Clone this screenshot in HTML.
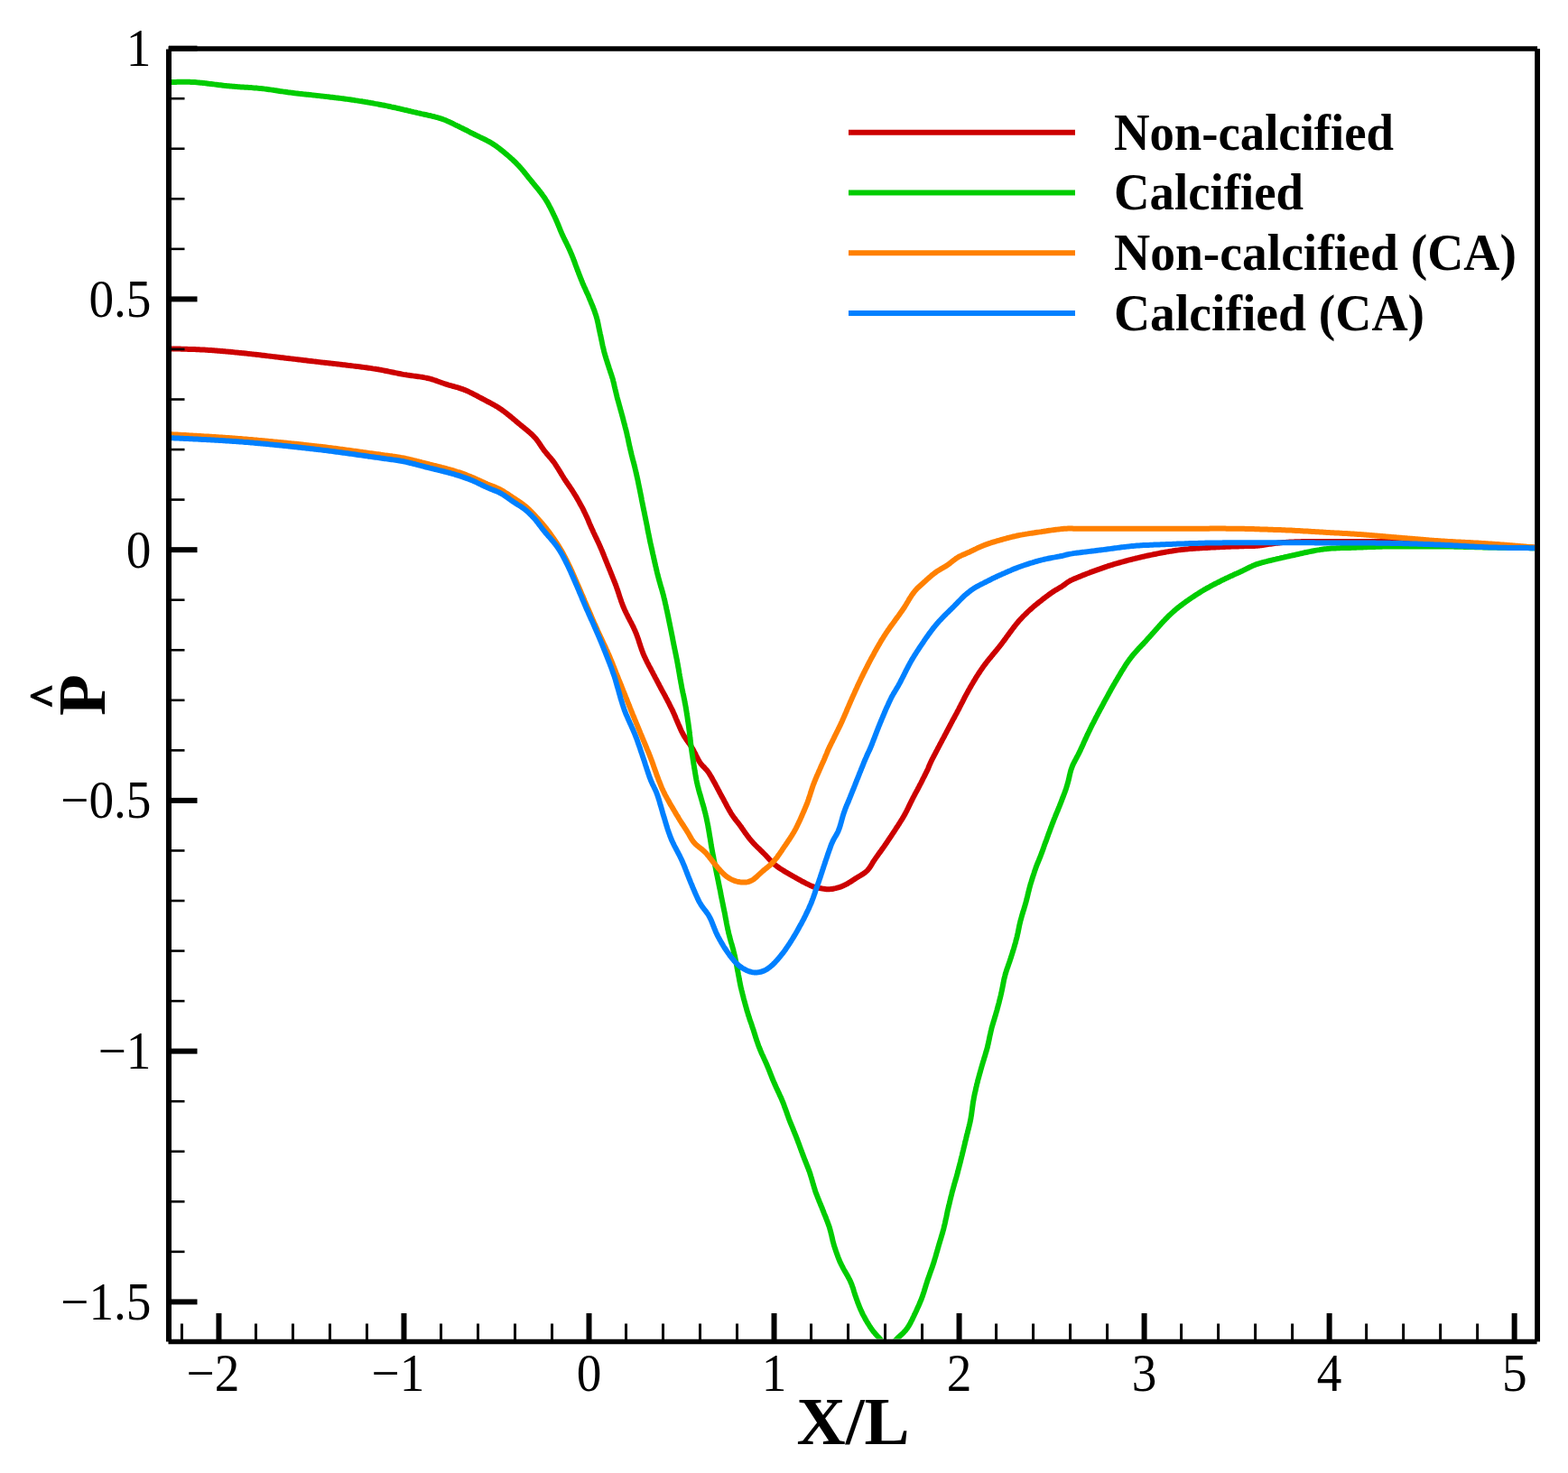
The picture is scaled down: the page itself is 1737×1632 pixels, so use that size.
<!DOCTYPE html><html><head><meta charset="utf-8"><title>Pressure plot</title><style>html,body{margin:0;padding:0;background:#fff;}svg{display:block;}</style></head><body>
<svg width="1737" height="1632" viewBox="0 0 1737 1632">
<rect width="1737" height="1632" fill="#fff"/>
<defs><clipPath id="pc"><rect x="190.0" y="57.0" width="1510.1" height="1426.6"/></clipPath></defs>
<g clip-path="url(#pc)" fill="none" stroke-width="6" stroke-linejoin="round" stroke-linecap="round">
<path stroke="#cc0000" d="M186.0,386.3L187.5,386.3 189.0,386.4 190.5,386.4 192.0,386.5 193.5,386.5 195.0,386.5 196.5,386.6 198.0,386.6 199.5,386.6 201.0,386.7 202.5,386.7 204.0,386.7 205.5,386.8 207.0,386.8 208.5,386.9 210.0,386.9 211.5,387.0 213.0,387.0 214.5,387.1 216.0,387.1 217.5,387.2 219.0,387.2 220.5,387.3 222.0,387.4 223.5,387.4 225.0,387.5 226.5,387.6 228.0,387.7 229.5,387.8 231.0,387.9 232.5,388.0 234.0,388.1 235.5,388.2 237.0,388.3 238.5,388.4 240.0,388.5 241.5,388.7 243.0,388.8 244.5,388.9 246.0,389.0 247.5,389.2 249.0,389.3 250.4,389.4 251.9,389.6 253.4,389.7 254.9,389.8 256.4,390.0 257.9,390.1 259.4,390.3 260.9,390.4 262.4,390.6 263.9,390.7 265.4,390.9 266.9,391.0 268.4,391.2 269.9,391.3 271.4,391.5 272.9,391.6 274.3,391.8 275.8,391.9 277.3,392.1 278.8,392.3 280.3,392.4 281.8,392.6 283.3,392.8 284.8,393.0 286.3,393.1 287.8,393.3 289.3,393.5 290.8,393.7 292.2,393.8 293.7,394.0 295.2,394.2 296.7,394.4 298.2,394.6 299.7,394.7 301.2,394.9 302.7,395.1 304.2,395.3 305.7,395.5 307.1,395.6 308.6,395.8 310.1,396.0 311.6,396.2 313.1,396.3 314.6,396.5 316.1,396.7 317.6,396.9 319.1,397.0 320.6,397.2 322.1,397.4 323.5,397.6 325.0,397.7 326.5,397.9 328.0,398.1 329.5,398.3 331.0,398.5 332.5,398.6 334.0,398.8 335.5,399.0 337.0,399.2 338.4,399.3 339.9,399.5 341.4,399.7 342.9,399.9 344.4,400.0 345.9,400.2 347.4,400.4 348.9,400.6 350.4,400.7 351.9,400.9 353.4,401.1 354.8,401.3 356.3,401.4 357.8,401.6 359.3,401.8 360.8,402.0 362.3,402.1 363.8,402.3 365.3,402.5 366.8,402.6 368.3,402.8 369.8,403.0 371.2,403.1 372.7,403.3 374.2,403.5 375.7,403.6 377.2,403.8 378.7,404.0 380.2,404.2 381.7,404.3 383.2,404.5 384.7,404.7 386.2,404.9 387.7,405.0 389.1,405.2 390.6,405.4 392.1,405.6 393.6,405.8 395.1,406.0 396.6,406.1 398.1,406.3 399.6,406.5 401.1,406.7 402.5,406.9 404.0,407.1 405.5,407.3 407.0,407.5 408.5,407.7 410.0,407.9 411.5,408.1 412.9,408.4 414.4,408.6 415.9,408.8 417.4,409.1 418.9,409.3 420.4,409.6 421.8,409.8 423.3,410.1 424.8,410.4 426.3,410.7 427.7,411.0 429.2,411.3 430.7,411.6 432.1,411.9 433.6,412.2 435.1,412.5 436.5,412.8 438.0,413.1 439.5,413.4 441.0,413.7 442.4,414.0 443.9,414.3 445.4,414.6 446.8,414.9 448.3,415.1 449.8,415.3 451.3,415.6 452.8,415.8 454.3,416.0 455.8,416.2 457.2,416.4 458.7,416.6 460.2,416.8 461.7,417.0 463.2,417.2 464.7,417.4 466.2,417.6 467.6,417.8 469.1,418.1 470.6,418.4 472.1,418.6 473.5,419.0 475.0,419.3 476.5,419.7 477.9,420.1 479.3,420.5 480.8,421.0 482.2,421.5 483.6,421.9 485.0,422.5 486.4,423.0 487.8,423.5 489.2,424.0 490.7,424.5 492.1,425.0 493.5,425.5 494.9,425.9 496.4,426.4 497.8,426.8 499.3,427.2 500.7,427.6 502.1,428.0 503.6,428.4 505.0,428.8 506.5,429.2 507.9,429.6 509.4,430.1 510.8,430.6 512.2,431.0 513.6,431.6 515.0,432.1 516.4,432.7 517.8,433.3 519.1,433.9 520.5,434.6 521.8,435.2 523.2,435.9 524.5,436.6 525.8,437.3 527.2,437.9 528.5,438.6 529.8,439.4 531.1,440.1 532.5,440.8 533.8,441.5 535.1,442.2 536.5,442.9 537.8,443.6 539.1,444.3 540.4,445.0 541.8,445.7 543.1,446.4 544.4,447.1 545.7,447.8 547.0,448.5 548.3,449.3 549.6,450.0 550.9,450.8 552.2,451.6 553.4,452.4 554.7,453.3 555.9,454.1 557.1,455.0 558.4,455.9 559.6,456.8 560.7,457.7 561.9,458.6 563.1,459.6 564.3,460.5 565.4,461.5 566.6,462.4 567.7,463.4 568.9,464.4 570.0,465.3 571.2,466.3 572.3,467.3 573.5,468.2 574.6,469.2 575.8,470.1 576.9,471.1 578.1,472.0 579.3,473.0 580.4,473.9 581.6,474.9 582.8,475.8 583.9,476.8 585.1,477.7 586.2,478.7 587.4,479.7 588.5,480.7 589.6,481.7 590.6,482.8 591.7,483.9 592.7,485.0 593.7,486.1 594.6,487.3 595.5,488.5 596.4,489.7 597.2,490.9 598.1,492.2 598.9,493.4 599.7,494.7 600.6,495.9 601.4,497.1 602.3,498.4 603.2,499.6 604.1,500.7 605.1,501.9 606.0,503.0 607.0,504.2 608.0,505.3 609.0,506.5 610.0,507.6 610.9,508.8 611.9,509.9 612.8,511.1 613.7,512.3 614.6,513.5 615.4,514.8 616.2,516.0 617.0,517.3 617.8,518.5 618.6,519.8 619.4,521.1 620.2,522.4 621.0,523.7 621.7,525.0 622.5,526.2 623.3,527.5 624.1,528.8 624.9,530.1 625.7,531.3 626.5,532.6 627.4,533.8 628.2,535.1 629.1,536.3 629.9,537.5 630.8,538.8 631.6,540.0 632.5,541.2 633.3,542.5 634.1,543.7 634.9,545.0 635.7,546.3 636.5,547.6 637.3,548.8 638.1,550.1 638.8,551.4 639.6,552.7 640.3,554.0 641.1,555.3 641.8,556.6 642.5,558.0 643.2,559.3 644.0,560.6 644.7,561.9 645.4,563.2 646.1,564.6 646.7,565.9 647.4,567.3 648.1,568.6 648.7,570.0 649.3,571.3 650.0,572.7 650.6,574.1 651.2,575.4 651.8,576.8 652.3,578.2 652.9,579.6 653.5,581.0 654.1,582.3 654.7,583.7 655.3,585.1 656.0,586.5 656.6,587.8 657.2,589.2 657.8,590.5 658.5,591.9 659.1,593.3 659.8,594.6 660.4,596.0 661.1,597.3 661.7,598.7 662.3,600.0 663.0,601.4 663.6,602.8 664.2,604.1 664.8,605.5 665.4,606.9 666.0,608.3 666.6,609.6 667.2,611.0 667.7,612.4 668.3,613.8 668.9,615.2 669.4,616.6 670.0,618.0 670.5,619.4 671.1,620.8 671.7,622.2 672.2,623.6 672.8,624.9 673.3,626.3 673.9,627.7 674.5,629.1 675.0,630.5 675.6,631.9 676.2,633.3 676.7,634.7 677.3,636.1 677.9,637.5 678.4,638.9 679.0,640.2 679.5,641.6 680.1,643.0 680.6,644.4 681.2,645.8 681.7,647.2 682.3,648.6 682.8,650.1 683.3,651.5 683.8,652.9 684.3,654.3 684.7,655.7 685.2,657.1 685.7,658.6 686.1,660.0 686.6,661.4 687.1,662.9 687.6,664.3 688.0,665.7 688.5,667.1 689.1,668.5 689.6,669.9 690.1,671.3 690.7,672.7 691.3,674.1 691.9,675.5 692.5,676.8 693.2,678.2 693.8,679.5 694.5,680.9 695.2,682.2 695.8,683.6 696.5,684.9 697.2,686.2 697.9,687.6 698.6,688.9 699.3,690.2 700.0,691.6 700.7,692.9 701.3,694.2 702.0,695.6 702.6,697.0 703.2,698.3 703.8,699.7 704.4,701.1 705.0,702.5 705.5,703.9 706.0,705.3 706.5,706.7 707.0,708.1 707.5,709.5 707.9,711.0 708.4,712.4 708.9,713.8 709.3,715.3 709.8,716.7 710.3,718.1 710.7,719.5 711.3,720.9 711.8,722.3 712.3,723.7 712.9,725.1 713.5,726.5 714.1,727.9 714.8,729.2 715.4,730.6 716.1,731.9 716.7,733.3 717.4,734.6 718.1,735.9 718.8,737.3 719.5,738.6 720.2,739.9 720.9,741.2 721.6,742.6 722.3,743.9 723.0,745.2 723.7,746.6 724.4,747.9 725.1,749.2 725.8,750.6 726.5,751.9 727.2,753.2 727.9,754.5 728.6,755.9 729.3,757.2 730.0,758.5 730.7,759.9 731.4,761.2 732.1,762.5 732.8,763.8 733.5,765.1 734.2,766.5 735.0,767.8 735.7,769.1 736.4,770.4 737.1,771.7 737.8,773.1 738.5,774.4 739.2,775.7 739.9,777.1 740.6,778.4 741.3,779.7 741.9,781.1 742.6,782.4 743.3,783.8 744.0,785.1 744.6,786.4 745.3,787.8 745.9,789.2 746.5,790.5 747.1,791.9 747.7,793.3 748.3,794.7 748.8,796.1 749.4,797.4 750.0,798.8 750.6,800.2 751.2,801.6 751.8,803.0 752.4,804.3 753.0,805.7 753.6,807.1 754.2,808.5 754.8,809.8 755.5,811.2 756.2,812.5 756.9,813.8 757.6,815.1 758.4,816.4 759.2,817.7 760.0,818.9 760.9,820.2 761.8,821.4 762.6,822.6 763.5,823.8 764.4,825.1 765.2,826.3 766.0,827.6 766.8,828.8 767.6,830.1 768.3,831.4 769.0,832.8 769.7,834.1 770.4,835.4 771.0,836.8 771.7,838.1 772.4,839.5 773.1,840.8 773.8,842.1 774.5,843.4 775.3,844.7 776.1,845.9 777.1,847.1 778.1,848.2 779.1,849.3 780.2,850.3 781.2,851.4 782.2,852.5 783.2,853.6 784.1,854.8 785.0,856.0 785.8,857.3 786.6,858.6 787.4,859.8 788.1,861.1 788.9,862.5 789.6,863.8 790.3,865.1 791.0,866.4 791.8,867.7 792.5,869.0 793.2,870.4 793.9,871.7 794.6,873.0 795.3,874.3 796.0,875.6 796.7,877.0 797.4,878.3 798.1,879.6 798.8,880.9 799.5,882.3 800.3,883.6 801.0,884.9 801.7,886.2 802.4,887.6 803.1,888.9 803.8,890.2 804.5,891.5 805.2,892.8 805.9,894.2 806.7,895.5 807.4,896.8 808.1,898.1 808.9,899.4 809.6,900.7 810.4,902.0 811.3,903.2 812.1,904.5 813.0,905.7 813.9,906.9 814.8,908.1 815.7,909.3 816.6,910.4 817.6,911.6 818.5,912.8 819.4,914.0 820.3,915.2 821.2,916.4 822.0,917.7 822.9,918.9 823.7,920.1 824.6,921.4 825.4,922.6 826.3,923.8 827.2,925.0 828.1,926.2 829.0,927.4 829.9,928.6 830.9,929.8 831.8,930.9 832.8,932.1 833.8,933.2 834.8,934.3 835.9,935.4 836.9,936.5 837.9,937.5 839.0,938.6 840.1,939.6 841.2,940.7 842.2,941.7 843.3,942.8 844.4,943.8 845.4,944.9 846.5,945.9 847.6,947.0 848.6,948.1 849.6,949.2 850.7,950.3 851.7,951.4 852.7,952.5 853.7,953.6 854.8,954.6 855.9,955.7 857.0,956.7 858.1,957.7 859.2,958.7 860.4,959.6 861.6,960.5 862.8,961.4 864.1,962.2 865.3,963.0 866.6,963.8 867.9,964.6 869.2,965.4 870.4,966.2 871.7,966.9 873.0,967.7 874.3,968.4 875.6,969.2 876.9,969.9 878.2,970.7 879.5,971.4 880.9,972.1 882.2,972.9 883.5,973.6 884.8,974.3 886.1,975.0 887.4,975.8 888.7,976.5 890.1,977.2 891.4,977.9 892.7,978.6 894.1,979.3 895.4,979.9 896.8,980.6 898.1,981.2 899.5,981.8 900.9,982.3 902.3,982.8 903.8,983.2 905.2,983.6 906.7,983.8 908.2,984.1 909.6,984.3 911.1,984.6 912.6,984.8 914.1,985.0 915.6,985.2 917.1,985.3 918.5,985.3 920.0,985.1 921.5,985.0 923.0,984.7 924.5,984.4 925.9,984.1 927.4,983.7 928.8,983.3 930.3,982.9 931.7,982.4 933.1,981.8 934.4,981.2 935.8,980.6 937.1,979.9 938.5,979.2 939.7,978.4 941.0,977.7 942.3,976.9 943.6,976.1 944.8,975.2 946.1,974.4 947.3,973.6 948.6,972.8 949.9,972.0 951.2,971.2 952.4,970.5 953.7,969.7 955.0,968.9 956.3,968.1 957.5,967.3 958.7,966.4 959.8,965.4 960.9,964.4 961.9,963.2 962.8,962.1 963.7,960.8 964.5,959.6 965.3,958.3 966.1,957.0 966.8,955.7 967.6,954.5 968.4,953.2 969.3,952.0 970.1,950.7 971.0,949.5 971.9,948.3 972.7,947.1 973.6,945.8 974.5,944.6 975.4,943.4 976.3,942.2 977.1,941.0 978.0,939.7 978.9,938.5 979.7,937.3 980.6,936.0 981.4,934.8 982.3,933.6 983.1,932.3 983.9,931.1 984.8,929.8 985.6,928.6 986.5,927.3 987.3,926.1 988.1,924.8 988.9,923.6 989.8,922.3 990.6,921.1 991.4,919.8 992.2,918.6 993.0,917.3 993.9,916.0 994.7,914.8 995.5,913.5 996.3,912.3 997.1,911.0 997.9,909.7 998.7,908.5 999.5,907.2 1000.3,905.9 1001.0,904.6 1001.8,903.3 1002.5,902.0 1003.2,900.6 1003.9,899.3 1004.6,898.0 1005.2,896.6 1005.9,895.3 1006.6,893.9 1007.2,892.6 1007.9,891.2 1008.5,889.9 1009.2,888.5 1009.9,887.2 1010.5,885.9 1011.2,884.5 1011.9,883.2 1012.6,881.9 1013.3,880.5 1014.0,879.2 1014.7,877.9 1015.4,876.6 1016.2,875.2 1016.9,873.9 1017.5,872.6 1018.2,871.3 1018.9,869.9 1019.6,868.6 1020.3,867.3 1021.0,865.9 1021.7,864.6 1022.3,863.2 1023.0,861.9 1023.7,860.6 1024.4,859.2 1025.0,857.9 1025.7,856.5 1026.4,855.2 1027.0,853.8 1027.7,852.5 1028.3,851.1 1028.8,849.7 1029.4,848.3 1030.0,846.9 1030.6,845.6 1031.2,844.2 1031.8,842.9 1032.5,841.5 1033.2,840.2 1033.9,838.8 1034.6,837.5 1035.3,836.2 1036.0,834.8 1036.7,833.5 1037.4,832.2 1038.1,830.9 1038.8,829.5 1039.5,828.2 1040.2,826.9 1040.9,825.5 1041.6,824.2 1042.3,822.9 1043.0,821.6 1043.7,820.2 1044.4,818.9 1045.1,817.6 1045.8,816.3 1046.5,814.9 1047.2,813.6 1047.9,812.3 1048.6,811.0 1049.3,809.6 1050.0,808.3 1050.7,807.0 1051.4,805.7 1052.1,804.3 1052.8,803.0 1053.5,801.7 1054.2,800.4 1054.9,799.0 1055.6,797.7 1056.3,796.4 1057.1,795.1 1057.8,793.7 1058.5,792.4 1059.2,791.1 1059.9,789.8 1060.6,788.4 1061.3,787.1 1062.0,785.8 1062.7,784.4 1063.3,783.1 1064.0,781.8 1064.7,780.4 1065.4,779.1 1066.1,777.8 1066.8,776.4 1067.5,775.1 1068.1,773.8 1068.8,772.4 1069.5,771.1 1070.2,769.8 1071.0,768.5 1071.7,767.1 1072.4,765.8 1073.1,764.5 1073.9,763.2 1074.6,761.9 1075.4,760.6 1076.1,759.3 1076.9,758.0 1077.7,756.7 1078.4,755.4 1079.2,754.1 1080.0,752.9 1080.7,751.6 1081.5,750.3 1082.3,749.0 1083.1,747.8 1083.9,746.5 1084.8,745.2 1085.6,744.0 1086.4,742.7 1087.3,741.5 1088.1,740.3 1089.0,739.0 1089.9,737.8 1090.8,736.6 1091.7,735.4 1092.6,734.2 1093.5,733.0 1094.4,731.9 1095.4,730.7 1096.3,729.5 1097.3,728.4 1098.2,727.2 1099.2,726.1 1100.1,724.9 1101.1,723.7 1102.1,722.6 1103.0,721.4 1104.0,720.3 1104.9,719.1 1105.9,717.9 1106.8,716.8 1107.7,715.6 1108.7,714.4 1109.6,713.2 1110.5,712.0 1111.4,710.8 1112.3,709.6 1113.2,708.4 1114.1,707.2 1114.9,706.0 1115.8,704.8 1116.7,703.6 1117.6,702.4 1118.5,701.1 1119.4,699.9 1120.3,698.7 1121.2,697.5 1122.1,696.3 1123.0,695.1 1123.9,693.9 1124.8,692.8 1125.7,691.6 1126.7,690.4 1127.7,689.3 1128.6,688.1 1129.6,687.0 1130.6,685.9 1131.7,684.8 1132.7,683.7 1133.7,682.6 1134.8,681.6 1135.9,680.5 1137.0,679.5 1138.0,678.4 1139.1,677.4 1140.2,676.4 1141.3,675.4 1142.5,674.4 1143.6,673.4 1144.7,672.4 1145.8,671.4 1147.0,670.5 1148.2,669.5 1149.3,668.6 1150.5,667.6 1151.7,666.7 1152.9,665.8 1154.1,664.9 1155.2,663.9 1156.4,663.0 1157.6,662.1 1158.8,661.2 1160.0,660.3 1161.2,659.4 1162.4,658.5 1163.6,657.6 1164.9,656.8 1166.1,655.9 1167.4,655.1 1168.6,654.3 1169.9,653.5 1171.2,652.8 1172.5,652.0 1173.8,651.2 1175.1,650.5 1176.4,649.7 1177.6,648.8 1178.8,648.0 1180.0,647.1 1181.2,646.2 1182.4,645.3 1183.7,644.5 1185.0,643.7 1186.3,643.0 1187.6,642.4 1189.0,641.7 1190.4,641.1 1191.8,640.6 1193.1,640.0 1194.5,639.4 1195.9,638.8 1197.3,638.3 1198.7,637.7 1200.1,637.2 1201.5,636.6 1202.9,636.1 1204.3,635.5 1205.7,635.0 1207.1,634.4 1208.5,633.9 1209.9,633.4 1211.3,632.9 1212.7,632.4 1214.1,631.8 1215.5,631.3 1216.9,630.8 1218.4,630.3 1219.8,629.8 1221.2,629.3 1222.6,628.8 1224.0,628.3 1225.5,627.8 1226.9,627.4 1228.3,626.9 1229.7,626.5 1231.2,626.0 1232.6,625.6 1234.0,625.1 1235.5,624.7 1236.9,624.3 1238.4,623.9 1239.8,623.5 1241.2,623.1 1242.7,622.7 1244.1,622.3 1245.6,621.9 1247.0,621.5 1248.5,621.1 1249.9,620.7 1251.4,620.3 1252.9,620.0 1254.3,619.6 1255.8,619.2 1257.2,618.9 1258.7,618.5 1260.1,618.2 1261.6,617.8 1263.1,617.5 1264.5,617.1 1266.0,616.8 1267.4,616.5 1268.9,616.1 1270.4,615.8 1271.8,615.5 1273.3,615.2 1274.8,614.9 1276.3,614.6 1277.7,614.3 1279.2,614.0 1280.7,613.7 1282.1,613.4 1283.6,613.1 1285.1,612.8 1286.6,612.5 1288.0,612.2 1289.5,612.0 1291.0,611.7 1292.5,611.4 1293.9,611.2 1295.4,610.9 1296.9,610.7 1298.4,610.5 1299.9,610.2 1301.4,610.0 1302.8,609.8 1304.3,609.6 1305.8,609.4 1307.3,609.2 1308.8,609.0 1310.3,608.9 1311.8,608.7 1313.3,608.5 1314.8,608.4 1316.3,608.3 1317.8,608.1 1319.3,608.0 1320.7,607.9 1322.2,607.8 1323.7,607.7 1325.2,607.6 1326.7,607.5 1328.2,607.4 1329.7,607.3 1331.2,607.2 1332.7,607.1 1334.2,607.0 1335.7,606.9 1337.2,606.9 1338.7,606.8 1340.2,606.7 1341.7,606.6 1343.2,606.5 1344.7,606.4 1346.2,606.4 1347.7,606.3 1349.2,606.2 1350.7,606.2 1352.2,606.1 1353.7,606.0 1355.2,606.0 1356.7,605.9 1358.2,605.8 1359.7,605.8 1361.2,605.7 1362.7,605.7 1364.2,605.6 1365.7,605.6 1367.2,605.5 1368.7,605.5 1370.2,605.4 1371.7,605.4 1373.2,605.3 1374.7,605.3 1376.2,605.2 1377.7,605.2 1379.2,605.1 1380.7,605.1 1382.2,605.1 1383.7,605.1 1385.2,605.0 1386.7,605.0 1388.2,604.9 1389.7,604.9 1391.2,604.8 1392.7,604.7 1394.2,604.5 1395.7,604.4 1397.2,604.2 1398.7,604.0 1400.2,603.8 1401.6,603.6 1403.1,603.4 1404.6,603.1 1406.1,602.9 1407.6,602.7 1409.1,602.5 1410.6,602.3 1412.0,602.1 1413.5,601.9 1415.0,601.7 1416.5,601.5 1418.0,601.4 1419.5,601.2 1421.0,601.1 1422.5,601.0 1424.0,600.9 1425.5,600.8 1427.0,600.7 1428.5,600.6 1430.0,600.5 1431.5,600.4 1433.0,600.4 1434.5,600.3 1436.0,600.3 1437.5,600.2 1439.0,600.2 1440.5,600.2 1442.0,600.1 1443.5,600.1 1445.0,600.1 1446.5,600.1 1448.0,600.0 1449.5,600.0 1451.0,600.0 1452.5,600.0 1454.0,600.0 1455.5,600.0 1457.0,599.9 1458.5,599.9 1460.0,599.9 1461.5,599.9 1463.0,599.9 1464.5,599.9 1466.0,599.9 1467.5,599.9 1469.0,599.9 1470.5,599.9 1472.0,599.9 1473.5,599.9 1475.0,599.9 1476.5,599.9 1478.0,599.9 1479.5,599.9 1481.0,599.9 1482.5,599.9 1484.0,599.9 1485.5,599.9 1487.0,599.9 1488.5,599.9 1490.0,599.9 1491.5,599.9 1493.0,599.9 1494.5,599.9 1496.0,599.9 1497.5,599.9 1499.0,599.9 1500.5,599.9 1502.0,599.9 1503.5,599.9 1505.0,599.9 1506.5,599.9 1508.0,599.9 1509.5,599.9 1511.0,599.9 1512.5,599.9 1514.0,599.9 1515.5,599.9 1517.0,599.9 1518.5,599.9 1520.0,600.0 1521.5,600.0 1523.0,600.0 1524.5,600.0 1526.0,600.0 1527.5,600.0 1529.0,600.0 1530.5,600.0 1532.0,600.1 1533.5,600.1 1535.0,600.1 1536.5,600.1 1538.0,600.1 1539.5,600.1 1541.0,600.2 1542.5,600.2 1544.0,600.2 1545.6,600.2 1547.1,600.3 1548.6,600.3 1550.1,600.3 1551.6,600.3 1553.1,600.4 1554.6,600.4 1556.1,600.4 1557.6,600.4 1559.1,600.5 1560.6,600.5 1562.1,600.5 1563.6,600.6 1565.1,600.6 1566.6,600.6 1568.1,600.7 1569.6,600.7 1571.1,600.8 1572.6,600.8 1574.1,600.8 1575.6,600.9 1577.1,600.9 1578.6,601.0 1580.1,601.0 1581.6,601.0 1583.1,601.1 1584.6,601.1 1586.1,601.2 1587.6,601.2 1589.1,601.3 1590.6,601.3 1592.1,601.4 1593.6,601.4 1595.1,601.5 1596.6,601.5 1598.1,601.6 1599.6,601.7 1601.1,601.7 1602.6,601.8 1604.1,601.8 1605.6,601.9 1607.1,601.9 1608.6,602.0 1610.1,602.1 1611.6,602.1 1613.1,602.2 1614.6,602.3 1616.1,602.3 1617.6,602.4 1619.1,602.5 1620.6,602.5 1622.1,602.6 1623.6,602.7 1625.1,602.7 1626.6,602.8 1628.1,602.9 1629.6,602.9 1631.1,603.0 1632.6,603.1 1634.1,603.2 1635.6,603.2 1637.1,603.3 1638.6,603.4 1640.1,603.5 1641.6,603.5 1643.0,603.6 1644.5,603.7 1646.0,603.8 1647.5,603.9 1649.0,603.9 1650.5,604.0 1652.0,604.1 1653.5,604.2 1655.0,604.3 1656.5,604.3 1658.0,604.4 1659.5,604.5 1661.0,604.6 1662.5,604.6 1664.0,604.7 1665.5,604.8 1667.0,604.9 1668.5,605.0 1670.0,605.1 1671.5,605.1 1673.0,605.2 1674.5,605.3 1676.0,605.4 1677.5,605.5 1679.0,605.5 1680.5,605.6 1682.0,605.7 1683.5,605.8 1685.0,605.9 1686.5,605.9 1688.0,606.0 1689.5,606.1 1691.0,606.2 1692.5,606.3 1694.0,606.4 1695.5,606.4 1697.0,606.5 1698.5,606.6 1700.0,606.7 1701.5,606.8 1703.0,606.8 1704.5,606.9 1706.0,607.0"/>
<path stroke="#00cc00" d="M186.0,91.1L187.5,91.1 189.0,91.0 190.5,91.0 192.0,90.9 193.5,90.9 195.0,90.9 196.5,90.8 198.0,90.8 199.5,90.8 201.0,90.7 202.5,90.7 204.0,90.7 205.5,90.7 207.0,90.7 208.5,90.8 210.0,90.8 211.5,90.9 213.0,90.9 214.5,91.0 216.0,91.1 217.5,91.2 219.0,91.4 220.5,91.5 222.0,91.7 223.5,91.8 225.0,92.0 226.5,92.1 227.9,92.3 229.4,92.5 230.9,92.7 232.4,92.9 233.9,93.0 235.4,93.2 236.9,93.4 238.4,93.6 239.9,93.8 241.3,94.0 242.8,94.2 244.3,94.3 245.8,94.5 247.3,94.7 248.8,94.9 250.3,95.0 251.8,95.2 253.3,95.3 254.8,95.5 256.3,95.6 257.8,95.7 259.3,95.8 260.8,96.0 262.2,96.1 263.7,96.2 265.2,96.3 266.7,96.4 268.2,96.5 269.7,96.6 271.2,96.7 272.7,96.7 274.2,96.8 275.7,96.9 277.2,97.0 278.7,97.1 280.2,97.3 281.7,97.4 283.2,97.5 284.7,97.6 286.2,97.8 287.7,97.9 289.2,98.1 290.7,98.2 292.2,98.4 293.7,98.6 295.1,98.8 296.6,99.0 298.1,99.2 299.6,99.4 301.1,99.6 302.6,99.8 304.1,100.1 305.5,100.3 307.0,100.5 308.5,100.7 310.0,101.0 311.5,101.2 313.0,101.4 314.4,101.6 315.9,101.8 317.4,102.0 318.9,102.3 320.4,102.5 321.9,102.6 323.4,102.8 324.9,103.0 326.3,103.2 327.8,103.4 329.3,103.5 330.8,103.7 332.3,103.9 333.8,104.0 335.3,104.2 336.8,104.4 338.3,104.5 339.8,104.7 341.3,104.8 342.8,105.0 344.2,105.1 345.7,105.3 347.2,105.4 348.7,105.6 350.2,105.8 351.7,105.9 353.2,106.1 354.7,106.3 356.2,106.4 357.7,106.6 359.2,106.8 360.7,106.9 362.1,107.1 363.6,107.3 365.1,107.5 366.6,107.7 368.1,107.8 369.6,108.0 371.1,108.2 372.6,108.4 374.1,108.5 375.6,108.7 377.0,108.9 378.5,109.1 380.0,109.3 381.5,109.5 383.0,109.7 384.5,109.9 386.0,110.1 387.5,110.3 388.9,110.5 390.4,110.7 391.9,110.9 393.4,111.2 394.9,111.4 396.4,111.6 397.8,111.9 399.3,112.1 400.8,112.3 402.3,112.6 403.8,112.8 405.3,113.1 406.7,113.3 408.2,113.6 409.7,113.8 411.2,114.1 412.6,114.3 414.1,114.6 415.6,114.9 417.1,115.1 418.6,115.4 420.0,115.7 421.5,116.0 423.0,116.3 424.4,116.5 425.9,116.8 427.4,117.1 428.9,117.4 430.3,117.7 431.8,118.0 433.3,118.4 434.7,118.7 436.2,119.0 437.7,119.3 439.1,119.6 440.6,120.0 442.1,120.3 443.5,120.6 445.0,121.0 446.4,121.3 447.9,121.7 449.4,122.0 450.8,122.3 452.3,122.7 453.7,123.0 455.2,123.4 456.7,123.7 458.1,124.1 459.6,124.4 461.1,124.7 462.5,125.1 464.0,125.4 465.4,125.7 466.9,126.1 468.4,126.4 469.8,126.7 471.3,127.0 472.8,127.3 474.2,127.7 475.7,128.0 477.2,128.3 478.6,128.7 480.1,129.0 481.5,129.4 483.0,129.8 484.4,130.2 485.9,130.6 487.3,131.0 488.7,131.5 490.2,131.9 491.6,132.5 493.0,133.0 494.4,133.6 495.7,134.2 497.1,134.8 498.5,135.4 499.8,136.1 501.2,136.7 502.5,137.4 503.9,138.1 505.2,138.7 506.6,139.4 507.9,140.0 509.2,140.7 510.6,141.4 511.9,142.0 513.3,142.7 514.6,143.4 516.0,144.0 517.3,144.7 518.6,145.4 520.0,146.1 521.3,146.8 522.6,147.5 524.0,148.1 525.3,148.8 526.7,149.5 528.0,150.1 529.4,150.8 530.7,151.4 532.1,152.1 533.4,152.7 534.8,153.4 536.1,154.0 537.5,154.7 538.8,155.4 540.1,156.1 541.5,156.8 542.8,157.5 544.1,158.3 545.3,159.1 546.6,159.9 547.9,160.7 549.1,161.5 550.3,162.4 551.5,163.3 552.7,164.2 553.9,165.1 555.1,166.1 556.3,167.0 557.4,167.9 558.6,168.9 559.7,169.9 560.9,170.8 562.0,171.8 563.2,172.8 564.3,173.7 565.4,174.7 566.5,175.7 567.7,176.7 568.8,177.8 569.8,178.8 570.9,179.8 572.0,180.9 573.0,182.0 574.1,183.1 575.1,184.2 576.1,185.3 577.1,186.4 578.1,187.5 579.0,188.7 580.0,189.8 580.9,191.0 581.9,192.2 582.8,193.3 583.8,194.5 584.7,195.7 585.6,196.9 586.6,198.0 587.5,199.2 588.5,200.4 589.4,201.5 590.4,202.7 591.3,203.8 592.3,205.0 593.2,206.2 594.2,207.3 595.1,208.5 596.1,209.6 597.0,210.8 597.9,212.0 598.9,213.2 599.8,214.4 600.7,215.6 601.5,216.8 602.4,218.0 603.3,219.3 604.1,220.5 604.9,221.8 605.7,223.0 606.4,224.3 607.2,225.6 607.9,227.0 608.6,228.3 609.3,229.6 610.0,230.9 610.7,232.3 611.3,233.6 612.0,235.0 612.6,236.3 613.3,237.7 613.9,239.0 614.6,240.4 615.2,241.8 615.8,243.1 616.4,244.5 617.0,245.9 617.6,247.3 618.2,248.7 618.7,250.0 619.3,251.4 619.9,252.8 620.4,254.2 621.0,255.6 621.6,257.0 622.2,258.4 622.8,259.7 623.4,261.1 624.1,262.5 624.7,263.8 625.4,265.2 626.0,266.5 626.7,267.8 627.4,269.2 628.0,270.5 628.7,271.9 629.3,273.2 630.0,274.6 630.6,276.0 631.2,277.3 631.8,278.7 632.4,280.1 633.0,281.5 633.6,282.9 634.1,284.2 634.7,285.6 635.2,287.0 635.7,288.4 636.3,289.8 636.8,291.3 637.3,292.7 637.8,294.1 638.4,295.5 638.9,296.9 639.4,298.3 639.9,299.7 640.5,301.1 641.0,302.5 641.5,303.9 642.1,305.3 642.6,306.7 643.2,308.1 643.7,309.5 644.3,310.9 644.9,312.3 645.4,313.6 646.0,315.0 646.6,316.4 647.2,317.8 647.9,319.1 648.5,320.5 649.1,321.9 649.7,323.2 650.3,324.6 651.0,326.0 651.6,327.3 652.2,328.7 652.7,330.1 653.3,331.5 653.9,332.9 654.5,334.3 655.0,335.7 655.6,337.0 656.2,338.4 656.7,339.8 657.3,341.2 657.8,342.6 658.3,344.0 658.9,345.4 659.3,346.9 659.8,348.3 660.3,349.7 660.7,351.1 661.1,352.6 661.5,354.0 661.8,355.5 662.2,357.0 662.5,358.4 662.8,359.9 663.1,361.4 663.4,362.8 663.7,364.3 664.0,365.8 664.3,367.2 664.6,368.7 664.9,370.2 665.3,371.6 665.6,373.1 665.9,374.6 666.2,376.1 666.5,377.5 666.8,379.0 667.1,380.5 667.4,381.9 667.7,383.4 668.1,384.9 668.4,386.3 668.8,387.8 669.1,389.2 669.5,390.7 669.9,392.1 670.3,393.6 670.7,395.0 671.2,396.4 671.6,397.9 672.1,399.3 672.5,400.7 673.0,402.2 673.4,403.6 673.9,405.0 674.4,406.5 674.8,407.9 675.3,409.3 675.8,410.7 676.2,412.2 676.7,413.6 677.2,415.0 677.7,416.4 678.1,417.9 678.6,419.3 679.0,420.7 679.3,422.2 679.7,423.6 680.1,425.1 680.4,426.6 680.7,428.0 681.1,429.5 681.4,430.9 681.8,432.4 682.1,433.9 682.5,435.3 682.8,436.8 683.2,438.2 683.5,439.7 683.9,441.2 684.3,442.6 684.7,444.1 685.1,445.5 685.5,446.9 685.9,448.4 686.3,449.8 686.7,451.3 687.1,452.7 687.5,454.2 687.9,455.6 688.3,457.1 688.7,458.5 689.1,460.0 689.5,461.4 689.9,462.9 690.3,464.3 690.6,465.8 691.0,467.2 691.4,468.7 691.8,470.1 692.2,471.6 692.5,473.0 692.9,474.5 693.3,475.9 693.7,477.4 694.0,478.8 694.4,480.3 694.7,481.8 695.0,483.2 695.4,484.7 695.7,486.2 696.0,487.6 696.3,489.1 696.6,490.6 696.9,492.0 697.2,493.5 697.6,495.0 697.9,496.4 698.2,497.9 698.6,499.3 698.9,500.8 699.3,502.3 699.6,503.7 700.0,505.2 700.4,506.6 700.7,508.1 701.1,509.5 701.5,511.0 701.9,512.4 702.3,513.9 702.6,515.3 703.0,516.8 703.4,518.3 703.7,519.7 704.1,521.2 704.4,522.6 704.7,524.1 705.1,525.6 705.4,527.0 705.7,528.5 706.1,530.0 706.4,531.4 706.7,532.9 707.0,534.4 707.3,535.8 707.6,537.3 707.9,538.8 708.2,540.2 708.5,541.7 708.8,543.2 709.1,544.6 709.4,546.1 709.7,547.6 710.0,549.1 710.3,550.5 710.6,552.0 710.8,553.5 711.1,555.0 711.4,556.4 711.7,557.9 712.0,559.4 712.3,560.8 712.6,562.3 712.9,563.8 713.2,565.3 713.5,566.7 713.8,568.2 714.1,569.7 714.4,571.1 714.7,572.6 715.0,574.1 715.3,575.5 715.6,577.0 715.9,578.5 716.2,580.0 716.5,581.4 716.8,582.9 717.1,584.4 717.3,585.8 717.6,587.3 717.9,588.8 718.2,590.3 718.5,591.7 718.8,593.2 719.1,594.7 719.4,596.2 719.7,597.6 720.0,599.1 720.3,600.6 720.6,602.0 721.0,603.5 721.3,605.0 721.6,606.4 721.9,607.9 722.3,609.3 722.6,610.8 722.9,612.3 723.2,613.7 723.6,615.2 723.9,616.7 724.2,618.1 724.5,619.6 724.9,621.1 725.2,622.5 725.5,624.0 725.9,625.5 726.2,626.9 726.6,628.4 726.9,629.8 727.2,631.3 727.6,632.8 727.9,634.2 728.3,635.7 728.6,637.1 729.0,638.6 729.4,640.0 729.8,641.5 730.2,642.9 730.6,644.4 731.0,645.8 731.4,647.3 731.8,648.7 732.2,650.2 732.7,651.6 733.1,653.0 733.5,654.5 733.9,655.9 734.3,657.4 734.7,658.8 735.1,660.3 735.4,661.7 735.8,663.2 736.1,664.6 736.5,666.1 736.8,667.6 737.1,669.0 737.5,670.5 737.8,672.0 738.1,673.4 738.4,674.9 738.8,676.4 739.1,677.8 739.4,679.3 739.7,680.8 740.0,682.2 740.3,683.7 740.6,685.2 740.9,686.6 741.2,688.1 741.5,689.6 741.8,691.0 742.1,692.5 742.4,694.0 742.7,695.5 743.0,696.9 743.3,698.4 743.6,699.9 743.9,701.3 744.2,702.8 744.5,704.3 744.8,705.8 745.1,707.2 745.3,708.7 745.6,710.2 745.9,711.6 746.2,713.1 746.5,714.6 746.8,716.1 747.1,717.5 747.4,719.0 747.7,720.5 748.0,721.9 748.3,723.4 748.6,724.9 748.9,726.4 749.2,727.8 749.5,729.3 749.8,730.8 750.1,732.2 750.3,733.7 750.6,735.2 750.9,736.7 751.1,738.2 751.4,739.6 751.7,741.1 751.9,742.6 752.2,744.1 752.4,745.5 752.7,747.0 752.9,748.5 753.2,750.0 753.4,751.5 753.7,752.9 754.0,754.4 754.2,755.9 754.5,757.4 754.8,758.8 755.1,760.3 755.3,761.8 755.6,763.3 755.9,764.7 756.2,766.2 756.5,767.7 756.9,769.1 757.2,770.6 757.5,772.1 757.8,773.6 758.1,775.0 758.4,776.5 758.6,778.0 758.9,779.4 759.2,780.9 759.5,782.4 759.7,783.9 760.0,785.3 760.2,786.8 760.5,788.3 760.7,789.8 760.9,791.3 761.2,792.8 761.4,794.2 761.6,795.7 761.8,797.2 762.0,798.7 762.3,800.2 762.5,801.7 762.7,803.2 762.9,804.6 763.1,806.1 763.3,807.6 763.5,809.1 763.7,810.6 763.8,812.1 764.0,813.6 764.2,815.1 764.4,816.6 764.5,818.0 764.7,819.5 764.9,821.0 765.0,822.5 765.2,824.0 765.4,825.5 765.6,827.0 765.8,828.5 766.0,830.0 766.2,831.4 766.4,832.9 766.6,834.4 766.8,835.9 767.1,837.4 767.3,838.9 767.5,840.4 767.7,841.8 768.0,843.3 768.2,844.8 768.4,846.3 768.7,847.8 768.9,849.2 769.1,850.7 769.4,852.2 769.6,853.7 769.9,855.2 770.1,856.7 770.4,858.1 770.6,859.6 770.9,861.1 771.2,862.6 771.4,864.0 771.7,865.5 772.0,867.0 772.4,868.4 772.7,869.9 773.1,871.4 773.5,872.8 773.8,874.3 774.2,875.7 774.6,877.2 775.0,878.6 775.4,880.0 775.9,881.5 776.3,882.9 776.7,884.4 777.1,885.8 777.5,887.3 777.9,888.7 778.3,890.1 778.7,891.6 779.2,893.0 779.6,894.5 780.0,895.9 780.3,897.4 780.7,898.8 781.1,900.3 781.5,901.7 781.8,903.2 782.2,904.7 782.5,906.1 782.8,907.6 783.1,909.0 783.4,910.5 783.7,912.0 784.0,913.5 784.3,914.9 784.5,916.4 784.8,917.9 785.1,919.4 785.3,920.8 785.6,922.3 785.8,923.8 786.1,925.3 786.3,926.8 786.6,928.3 786.8,929.7 787.0,931.2 787.3,932.7 787.5,934.2 787.7,935.7 788.0,937.1 788.2,938.6 788.5,940.1 788.8,941.6 789.0,943.1 789.3,944.5 789.6,946.0 789.9,947.5 790.2,948.9 790.4,950.4 790.7,951.9 791.0,953.4 791.3,954.8 791.6,956.3 791.9,957.8 792.2,959.2 792.5,960.7 792.8,962.2 793.1,963.7 793.4,965.1 793.7,966.6 794.0,968.1 794.3,969.5 794.6,971.0 794.9,972.5 795.2,974.0 795.5,975.4 795.8,976.9 796.1,978.4 796.4,979.8 796.7,981.3 797.0,982.8 797.3,984.3 797.6,985.7 797.9,987.2 798.2,988.7 798.4,990.1 798.7,991.6 799.0,993.1 799.3,994.6 799.6,996.0 799.9,997.5 800.2,999.0 800.5,1000.4 800.8,1001.9 801.1,1003.4 801.4,1004.9 801.7,1006.3 802.0,1007.8 802.3,1009.3 802.6,1010.7 802.9,1012.2 803.2,1013.7 803.4,1015.2 803.7,1016.6 804.0,1018.1 804.3,1019.6 804.6,1021.1 804.8,1022.5 805.1,1024.0 805.4,1025.5 805.7,1026.9 806.0,1028.4 806.3,1029.9 806.7,1031.3 807.0,1032.8 807.3,1034.3 807.7,1035.7 808.1,1037.2 808.4,1038.6 808.8,1040.1 809.2,1041.5 809.6,1043.0 810.0,1044.4 810.5,1045.9 810.9,1047.3 811.3,1048.7 811.7,1050.2 812.1,1051.6 812.5,1053.1 812.8,1054.5 813.2,1056.0 813.5,1057.5 813.9,1058.9 814.2,1060.4 814.5,1061.9 814.8,1063.3 815.1,1064.8 815.4,1066.3 815.7,1067.7 816.0,1069.2 816.3,1070.7 816.5,1072.2 816.8,1073.6 817.1,1075.1 817.4,1076.6 817.7,1078.1 817.9,1079.5 818.2,1081.0 818.5,1082.5 818.8,1084.0 819.0,1085.4 819.3,1086.9 819.6,1088.4 819.9,1089.9 820.2,1091.3 820.5,1092.8 820.8,1094.3 821.2,1095.7 821.5,1097.2 821.9,1098.6 822.3,1100.1 822.6,1101.5 823.0,1103.0 823.4,1104.5 823.7,1105.9 824.1,1107.4 824.5,1108.8 824.9,1110.3 825.3,1111.7 825.7,1113.2 826.1,1114.6 826.5,1116.0 826.9,1117.5 827.3,1118.9 827.7,1120.4 828.2,1121.8 828.6,1123.2 829.0,1124.7 829.5,1126.1 830.0,1127.5 830.4,1129.0 830.9,1130.4 831.4,1131.8 831.9,1133.2 832.4,1134.6 832.9,1136.1 833.3,1137.5 833.8,1138.9 834.3,1140.3 834.8,1141.8 835.2,1143.2 835.7,1144.6 836.1,1146.0 836.6,1147.5 837.0,1148.9 837.5,1150.3 837.9,1151.8 838.4,1153.2 838.9,1154.6 839.4,1156.0 839.9,1157.4 840.4,1158.9 840.9,1160.3 841.5,1161.6 842.0,1163.0 842.6,1164.4 843.2,1165.8 843.8,1167.2 844.4,1168.5 845.1,1169.9 845.7,1171.3 846.3,1172.6 846.9,1174.0 847.6,1175.4 848.2,1176.7 848.8,1178.1 849.4,1179.5 850.0,1180.9 850.5,1182.3 851.1,1183.6 851.7,1185.0 852.2,1186.4 852.8,1187.8 853.3,1189.2 853.9,1190.6 854.4,1192.0 855.0,1193.4 855.5,1194.8 856.1,1196.2 856.7,1197.6 857.3,1199.0 857.9,1200.3 858.5,1201.7 859.1,1203.1 859.7,1204.4 860.3,1205.8 861.0,1207.2 861.6,1208.5 862.2,1209.9 862.9,1211.2 863.5,1212.6 864.1,1214.0 864.8,1215.3 865.4,1216.7 866.0,1218.1 866.5,1219.5 867.1,1220.8 867.7,1222.2 868.2,1223.6 868.7,1225.0 869.2,1226.5 869.8,1227.9 870.3,1229.3 870.8,1230.7 871.3,1232.1 871.8,1233.5 872.3,1234.9 872.8,1236.4 873.3,1237.8 873.8,1239.2 874.3,1240.6 874.9,1242.0 875.4,1243.4 876.0,1244.8 876.6,1246.2 877.1,1247.5 877.7,1248.9 878.3,1250.3 878.8,1251.7 879.4,1253.1 880.0,1254.5 880.5,1255.9 881.1,1257.3 881.7,1258.7 882.2,1260.1 882.7,1261.5 883.3,1262.9 883.8,1264.3 884.3,1265.7 884.9,1267.1 885.4,1268.5 885.9,1269.9 886.4,1271.3 886.9,1272.7 887.4,1274.1 887.9,1275.5 888.5,1276.9 889.0,1278.3 889.5,1279.8 890.1,1281.2 890.6,1282.6 891.1,1284.0 891.7,1285.3 892.2,1286.7 892.8,1288.1 893.3,1289.5 893.9,1290.9 894.4,1292.3 895.0,1293.7 895.5,1295.1 896.0,1296.5 896.6,1297.9 897.1,1299.4 897.5,1300.8 898.0,1302.2 898.4,1303.6 898.9,1305.1 899.3,1306.5 899.7,1308.0 900.1,1309.4 900.5,1310.8 900.9,1312.3 901.4,1313.7 901.8,1315.2 902.2,1316.6 902.7,1318.0 903.1,1319.5 903.6,1320.9 904.1,1322.3 904.7,1323.7 905.2,1325.1 905.7,1326.5 906.3,1327.9 906.9,1329.3 907.4,1330.7 908.0,1332.1 908.6,1333.5 909.1,1334.8 909.7,1336.2 910.3,1337.6 910.8,1339.0 911.4,1340.4 911.9,1341.8 912.5,1343.2 913.0,1344.6 913.6,1346.0 914.2,1347.4 914.7,1348.8 915.3,1350.2 915.8,1351.6 916.4,1353.0 916.9,1354.4 917.4,1355.8 917.9,1357.2 918.4,1358.6 918.9,1360.0 919.3,1361.5 919.7,1362.9 920.1,1364.4 920.5,1365.8 920.8,1367.3 921.2,1368.7 921.5,1370.2 921.8,1371.6 922.2,1373.1 922.5,1374.6 922.9,1376.0 923.3,1377.5 923.7,1378.9 924.1,1380.4 924.6,1381.8 925.0,1383.2 925.5,1384.6 926.0,1386.1 926.5,1387.5 927.0,1388.9 927.5,1390.3 928.0,1391.7 928.5,1393.1 929.1,1394.5 929.6,1395.9 930.2,1397.3 930.8,1398.7 931.5,1400.0 932.1,1401.4 932.8,1402.7 933.5,1404.0 934.2,1405.4 934.9,1406.7 935.7,1408.0 936.4,1409.3 937.2,1410.6 937.9,1411.9 938.7,1413.2 939.4,1414.5 940.1,1415.8 940.8,1417.1 941.5,1418.5 942.1,1419.8 942.7,1421.2 943.3,1422.6 943.8,1424.0 944.3,1425.4 944.8,1426.8 945.3,1428.3 945.7,1429.7 946.1,1431.1 946.6,1432.6 947.0,1434.0 947.5,1435.4 948.0,1436.8 948.5,1438.3 949.0,1439.7 949.5,1441.1 950.0,1442.5 950.5,1443.9 951.1,1445.3 951.6,1446.7 952.2,1448.1 952.8,1449.5 953.3,1450.8 954.0,1452.2 954.6,1453.6 955.2,1454.9 955.9,1456.3 956.6,1457.6 957.3,1458.9 958.0,1460.2 958.7,1461.6 959.5,1462.9 960.2,1464.2 961.0,1465.5 961.8,1466.7 962.6,1468.0 963.4,1469.3 964.2,1470.5 965.0,1471.8 965.9,1473.0 966.8,1474.2 967.7,1475.4 968.7,1476.5 969.6,1477.7 970.6,1478.8 971.6,1479.9 972.7,1481.0 973.7,1482.1 974.7,1483.2 975.7,1484.4 976.6,1485.5 977.6,1486.7 978.6,1487.8 979.6,1488.9 980.7,1489.9 981.8,1490.7 983.1,1491.1 984.4,1491.2 985.7,1490.9 986.9,1490.2 988.0,1489.3 989.0,1488.3 990.0,1487.2 991.0,1486.1 992.0,1485.0 993.1,1483.9 994.1,1482.8 995.2,1481.8 996.3,1480.8 997.4,1479.7 998.5,1478.7 999.6,1477.7 1000.7,1476.7 1001.7,1475.6 1002.7,1474.5 1003.7,1473.3 1004.6,1472.2 1005.5,1470.9 1006.3,1469.7 1007.1,1468.4 1007.8,1467.1 1008.6,1465.8 1009.2,1464.4 1009.9,1463.1 1010.6,1461.8 1011.2,1460.4 1011.9,1459.0 1012.5,1457.7 1013.1,1456.3 1013.8,1455.0 1014.4,1453.6 1015.1,1452.3 1015.7,1450.9 1016.3,1449.5 1016.9,1448.2 1017.6,1446.8 1018.2,1445.4 1018.8,1444.0 1019.3,1442.7 1019.9,1441.3 1020.5,1439.9 1021.0,1438.5 1021.5,1437.1 1022.1,1435.7 1022.5,1434.3 1023.0,1432.8 1023.5,1431.4 1023.9,1430.0 1024.4,1428.5 1024.8,1427.1 1025.2,1425.7 1025.7,1424.2 1026.1,1422.8 1026.6,1421.4 1027.0,1419.9 1027.5,1418.5 1028.0,1417.1 1028.5,1415.7 1029.0,1414.3 1029.5,1412.9 1030.0,1411.4 1030.5,1410.0 1031.0,1408.6 1031.5,1407.2 1032.0,1405.8 1032.5,1404.4 1033.0,1403.0 1033.5,1401.5 1034.0,1400.1 1034.4,1398.7 1034.9,1397.2 1035.3,1395.8 1035.7,1394.4 1036.2,1392.9 1036.6,1391.5 1037.0,1390.1 1037.4,1388.6 1037.8,1387.2 1038.3,1385.7 1038.7,1384.3 1039.1,1382.8 1039.5,1381.4 1039.9,1380.0 1040.3,1378.5 1040.8,1377.1 1041.2,1375.6 1041.6,1374.2 1042.1,1372.8 1042.5,1371.3 1042.9,1369.9 1043.3,1368.5 1043.8,1367.0 1044.2,1365.6 1044.6,1364.1 1045.0,1362.7 1045.4,1361.2 1045.7,1359.8 1046.1,1358.3 1046.4,1356.9 1046.8,1355.4 1047.1,1353.9 1047.4,1352.5 1047.7,1351.0 1048.1,1349.5 1048.4,1348.1 1048.7,1346.6 1049.0,1345.1 1049.3,1343.7 1049.6,1342.2 1049.9,1340.7 1050.3,1339.3 1050.6,1337.8 1051.0,1336.3 1051.3,1334.9 1051.7,1333.4 1052.0,1332.0 1052.4,1330.5 1052.7,1329.0 1053.1,1327.6 1053.4,1326.1 1053.8,1324.7 1054.2,1323.2 1054.5,1321.8 1054.9,1320.3 1055.3,1318.9 1055.7,1317.4 1056.1,1316.0 1056.5,1314.5 1056.9,1313.1 1057.3,1311.6 1057.7,1310.2 1058.1,1308.8 1058.6,1307.3 1059.0,1305.9 1059.4,1304.4 1059.8,1303.0 1060.2,1301.5 1060.6,1300.1 1061.0,1298.6 1061.3,1297.2 1061.7,1295.7 1062.1,1294.3 1062.5,1292.8 1062.8,1291.4 1063.2,1289.9 1063.6,1288.5 1064.0,1287.0 1064.3,1285.6 1064.7,1284.1 1065.0,1282.6 1065.4,1281.2 1065.8,1279.7 1066.1,1278.3 1066.5,1276.8 1066.8,1275.4 1067.2,1273.9 1067.5,1272.4 1067.9,1271.0 1068.2,1269.5 1068.6,1268.1 1068.9,1266.6 1069.3,1265.1 1069.6,1263.7 1070.0,1262.2 1070.3,1260.8 1070.7,1259.3 1071.0,1257.8 1071.4,1256.4 1071.8,1254.9 1072.1,1253.5 1072.5,1252.0 1072.9,1250.6 1073.2,1249.1 1073.6,1247.7 1073.9,1246.2 1074.3,1244.7 1074.6,1243.3 1074.9,1241.8 1075.2,1240.3 1075.5,1238.9 1075.7,1237.4 1076.0,1235.9 1076.2,1234.4 1076.4,1232.9 1076.6,1231.4 1076.8,1229.9 1077.0,1228.5 1077.2,1227.0 1077.4,1225.5 1077.6,1224.0 1077.8,1222.5 1078.0,1221.0 1078.3,1219.6 1078.6,1218.1 1078.8,1216.6 1079.1,1215.1 1079.4,1213.7 1079.7,1212.2 1080.0,1210.7 1080.4,1209.3 1080.7,1207.8 1081.0,1206.3 1081.3,1204.9 1081.7,1203.4 1082.0,1201.9 1082.4,1200.5 1082.8,1199.0 1083.1,1197.6 1083.5,1196.1 1083.9,1194.7 1084.3,1193.2 1084.7,1191.8 1085.1,1190.3 1085.5,1188.9 1085.9,1187.4 1086.3,1186.0 1086.7,1184.5 1087.1,1183.1 1087.5,1181.7 1087.9,1180.2 1088.4,1178.8 1088.8,1177.3 1089.2,1175.9 1089.7,1174.5 1090.1,1173.0 1090.5,1171.6 1091.0,1170.2 1091.4,1168.7 1091.8,1167.3 1092.3,1165.8 1092.7,1164.4 1093.1,1163.0 1093.5,1161.5 1093.9,1160.1 1094.2,1158.6 1094.6,1157.1 1094.9,1155.7 1095.2,1154.2 1095.5,1152.8 1095.8,1151.3 1096.1,1149.8 1096.4,1148.3 1096.7,1146.9 1097.1,1145.4 1097.4,1143.9 1097.7,1142.5 1098.1,1141.0 1098.4,1139.6 1098.8,1138.1 1099.2,1136.7 1099.6,1135.2 1100.1,1133.8 1100.5,1132.3 1100.9,1130.9 1101.4,1129.5 1101.8,1128.0 1102.2,1126.6 1102.7,1125.2 1103.1,1123.7 1103.5,1122.3 1103.9,1120.9 1104.4,1119.4 1104.7,1118.0 1105.1,1116.5 1105.5,1115.1 1105.9,1113.6 1106.3,1112.2 1106.7,1110.7 1107.0,1109.3 1107.4,1107.8 1107.8,1106.3 1108.1,1104.9 1108.5,1103.4 1108.8,1102.0 1109.2,1100.5 1109.5,1099.0 1109.8,1097.6 1110.1,1096.1 1110.4,1094.6 1110.7,1093.2 1111.0,1091.7 1111.3,1090.2 1111.6,1088.7 1111.8,1087.3 1112.1,1085.8 1112.5,1084.3 1112.8,1082.9 1113.2,1081.4 1113.5,1080.0 1114.0,1078.5 1114.4,1077.1 1114.8,1075.7 1115.3,1074.2 1115.8,1072.8 1116.3,1071.4 1116.8,1070.0 1117.3,1068.6 1117.8,1067.1 1118.3,1065.7 1118.8,1064.3 1119.2,1062.9 1119.7,1061.5 1120.2,1060.0 1120.6,1058.6 1121.1,1057.2 1121.5,1055.7 1122.0,1054.3 1122.4,1052.9 1122.9,1051.4 1123.3,1050.0 1123.7,1048.6 1124.1,1047.1 1124.5,1045.7 1125.0,1044.2 1125.3,1042.8 1125.7,1041.3 1126.1,1039.9 1126.5,1038.4 1126.8,1037.0 1127.1,1035.5 1127.5,1034.0 1127.8,1032.6 1128.1,1031.1 1128.4,1029.6 1128.7,1028.2 1129.0,1026.7 1129.3,1025.2 1129.6,1023.8 1130.0,1022.3 1130.3,1020.8 1130.7,1019.4 1131.1,1017.9 1131.5,1016.5 1131.9,1015.0 1132.3,1013.6 1132.7,1012.2 1133.2,1010.7 1133.6,1009.3 1134.1,1007.9 1134.5,1006.4 1134.9,1005.0 1135.4,1003.6 1135.8,1002.1 1136.2,1000.7 1136.6,999.2 1137.0,997.8 1137.4,996.3 1137.7,994.9 1138.1,993.4 1138.4,992.0 1138.8,990.5 1139.1,989.0 1139.5,987.6 1139.9,986.1 1140.2,984.7 1140.6,983.2 1141.0,981.8 1141.4,980.3 1141.8,978.9 1142.3,977.4 1142.7,976.0 1143.2,974.6 1143.6,973.1 1144.1,971.7 1144.5,970.3 1145.0,968.9 1145.5,967.4 1145.9,966.0 1146.4,964.6 1146.9,963.2 1147.4,961.8 1147.9,960.3 1148.4,958.9 1149.0,957.5 1149.5,956.2 1150.1,954.8 1150.7,953.4 1151.3,952.0 1151.8,950.6 1152.4,949.2 1152.9,947.8 1153.4,946.4 1154.0,945.0 1154.5,943.6 1155.0,942.2 1155.5,940.8 1156.0,939.4 1156.5,937.9 1157.0,936.5 1157.5,935.1 1158.0,933.7 1158.6,932.3 1159.1,930.9 1159.6,929.5 1160.1,928.1 1160.6,926.7 1161.1,925.3 1161.6,923.8 1162.2,922.4 1162.7,921.0 1163.2,919.6 1163.7,918.2 1164.2,916.8 1164.8,915.4 1165.3,914.0 1165.8,912.6 1166.4,911.2 1166.9,909.8 1167.4,908.4 1168.0,907.0 1168.6,905.6 1169.1,904.2 1169.7,902.8 1170.3,901.4 1170.8,900.0 1171.4,898.7 1172.0,897.3 1172.5,895.9 1173.1,894.5 1173.7,893.1 1174.2,891.7 1174.8,890.3 1175.3,888.9 1175.9,887.5 1176.4,886.1 1176.9,884.7 1177.5,883.3 1178.0,881.9 1178.5,880.5 1179.1,879.1 1179.6,877.7 1180.1,876.3 1180.6,874.9 1181.1,873.4 1181.5,872.0 1182.0,870.6 1182.4,869.1 1182.8,867.7 1183.2,866.3 1183.6,864.8 1183.9,863.3 1184.3,861.9 1184.6,860.4 1184.9,858.9 1185.3,857.5 1185.6,856.0 1186.0,854.6 1186.4,853.1 1186.9,851.7 1187.4,850.3 1187.9,848.9 1188.5,847.5 1189.1,846.1 1189.8,844.8 1190.5,843.5 1191.2,842.1 1191.9,840.8 1192.6,839.5 1193.3,838.2 1194.0,836.9 1194.7,835.5 1195.4,834.2 1196.0,832.8 1196.7,831.5 1197.3,830.1 1197.9,828.8 1198.6,827.4 1199.2,826.0 1199.8,824.7 1200.4,823.3 1201.0,821.9 1201.6,820.6 1202.3,819.2 1202.9,817.8 1203.5,816.5 1204.1,815.1 1204.8,813.7 1205.4,812.4 1206.1,811.0 1206.7,809.7 1207.4,808.3 1208.0,807.0 1208.7,805.6 1209.3,804.3 1210.0,802.9 1210.7,801.6 1211.4,800.3 1212.1,798.9 1212.8,797.6 1213.4,796.3 1214.1,794.9 1214.8,793.6 1215.5,792.3 1216.2,790.9 1216.9,789.6 1217.6,788.3 1218.3,787.0 1219.0,785.6 1219.8,784.3 1220.5,783.0 1221.2,781.7 1221.9,780.4 1222.6,779.0 1223.3,777.7 1224.0,776.4 1224.7,775.1 1225.4,773.8 1226.2,772.4 1226.9,771.1 1227.6,769.8 1228.3,768.5 1229.0,767.2 1229.8,765.9 1230.5,764.5 1231.2,763.2 1232.0,761.9 1232.7,760.6 1233.5,759.3 1234.2,758.0 1235.0,756.7 1235.7,755.4 1236.5,754.1 1237.3,752.8 1238.0,751.6 1238.8,750.3 1239.5,749.0 1240.3,747.7 1241.1,746.4 1241.8,745.1 1242.6,743.8 1243.4,742.5 1244.2,741.3 1245.0,740.0 1245.8,738.7 1246.6,737.4 1247.4,736.2 1248.2,734.9 1249.1,733.7 1249.9,732.5 1250.8,731.3 1251.7,730.0 1252.6,728.9 1253.5,727.7 1254.5,726.5 1255.4,725.3 1256.4,724.2 1257.4,723.1 1258.4,721.9 1259.4,720.8 1260.4,719.7 1261.4,718.6 1262.4,717.5 1263.5,716.4 1264.5,715.3 1265.5,714.2 1266.6,713.2 1267.6,712.1 1268.6,711.0 1269.6,709.9 1270.6,708.7 1271.6,707.6 1272.6,706.5 1273.6,705.4 1274.6,704.3 1275.6,703.2 1276.6,702.0 1277.6,700.9 1278.6,699.8 1279.6,698.7 1280.6,697.5 1281.6,696.4 1282.6,695.3 1283.6,694.2 1284.6,693.0 1285.6,691.9 1286.6,690.8 1287.6,689.7 1288.6,688.6 1289.7,687.5 1290.7,686.4 1291.7,685.4 1292.8,684.3 1293.9,683.2 1294.9,682.2 1296.0,681.1 1297.1,680.1 1298.2,679.1 1299.3,678.1 1300.4,677.1 1301.6,676.1 1302.7,675.1 1303.9,674.2 1305.0,673.2 1306.2,672.3 1307.4,671.4 1308.6,670.5 1309.8,669.6 1311.0,668.7 1312.2,667.8 1313.4,666.9 1314.6,666.0 1315.9,665.2 1317.1,664.3 1318.3,663.5 1319.6,662.6 1320.8,661.8 1322.1,661.0 1323.3,660.1 1324.6,659.3 1325.8,658.5 1327.1,657.7 1328.4,656.9 1329.6,656.1 1330.9,655.3 1332.2,654.5 1333.5,653.7 1334.8,653.0 1336.1,652.2 1337.4,651.5 1338.7,650.8 1340.0,650.1 1341.3,649.3 1342.7,648.6 1344.0,647.9 1345.3,647.2 1346.7,646.5 1348.0,645.9 1349.3,645.2 1350.7,644.5 1352.0,643.8 1353.3,643.1 1354.7,642.5 1356.0,641.8 1357.4,641.2 1358.7,640.5 1360.1,639.9 1361.5,639.2 1362.8,638.6 1364.2,638.0 1365.6,637.4 1366.9,636.7 1368.3,636.1 1369.7,635.5 1371.0,634.9 1372.4,634.3 1373.8,633.7 1375.1,633.0 1376.5,632.4 1377.8,631.7 1379.2,631.1 1380.5,630.4 1381.8,629.7 1383.2,629.0 1384.5,628.3 1385.9,627.7 1387.2,627.1 1388.6,626.5 1390.0,625.9 1391.4,625.4 1392.8,624.9 1394.3,624.5 1395.7,624.0 1397.1,623.6 1398.6,623.2 1400.0,622.8 1401.5,622.4 1402.9,622.1 1404.4,621.7 1405.8,621.3 1407.3,621.0 1408.8,620.6 1410.2,620.3 1411.7,619.9 1413.1,619.6 1414.6,619.2 1416.1,618.9 1417.5,618.6 1419.0,618.2 1420.5,617.9 1421.9,617.6 1423.4,617.2 1424.8,616.9 1426.3,616.6 1427.8,616.3 1429.2,615.9 1430.7,615.6 1432.2,615.3 1433.6,615.0 1435.1,614.6 1436.6,614.3 1438.0,614.0 1439.5,613.6 1441.0,613.3 1442.4,613.0 1443.9,612.6 1445.3,612.3 1446.8,612.0 1448.3,611.7 1449.7,611.4 1451.2,611.1 1452.7,610.8 1454.2,610.5 1455.6,610.2 1457.1,609.9 1458.6,609.6 1460.1,609.4 1461.5,609.2 1463.0,608.9 1464.5,608.7 1466.0,608.5 1467.5,608.3 1469.0,608.2 1470.5,608.0 1472.0,607.9 1473.5,607.7 1475.0,607.6 1476.5,607.5 1478.0,607.4 1479.4,607.4 1480.9,607.3 1482.4,607.2 1483.9,607.2 1485.4,607.1 1486.9,607.1 1488.4,607.1 1489.9,607.0 1491.4,607.0 1492.9,606.9 1494.4,606.9 1495.9,606.9 1497.4,606.8 1498.9,606.8 1500.4,606.7 1501.9,606.7 1503.4,606.6 1504.9,606.5 1506.4,606.5 1507.9,606.4 1509.4,606.4 1510.9,606.3 1512.4,606.2 1513.9,606.2 1515.4,606.1 1516.9,606.1 1518.4,606.0 1519.9,606.0 1521.4,605.9 1522.9,605.9 1524.4,605.8 1525.9,605.8 1527.4,605.7 1528.9,605.7 1530.4,605.7 1531.9,605.6 1533.4,605.6 1534.9,605.6 1536.4,605.6 1537.9,605.5 1539.4,605.5 1540.9,605.5 1542.4,605.5 1543.9,605.5 1545.4,605.4 1546.9,605.4 1548.4,605.4 1549.9,605.4 1551.4,605.4 1552.9,605.4 1554.5,605.4 1556.0,605.4 1557.5,605.4 1559.0,605.4 1560.5,605.4 1562.0,605.4 1563.5,605.4 1565.0,605.4 1566.5,605.4 1568.0,605.4 1569.5,605.4 1571.0,605.4 1572.5,605.4 1574.0,605.4 1575.5,605.4 1577.0,605.4 1578.5,605.4 1580.0,605.4 1581.5,605.4 1583.0,605.4 1584.5,605.4 1586.0,605.4 1587.5,605.4 1589.0,605.4 1590.5,605.4 1592.0,605.4 1593.5,605.4 1595.0,605.5 1596.5,605.5 1598.0,605.5 1599.5,605.5 1601.0,605.5 1602.5,605.5 1604.0,605.5 1605.5,605.6 1607.0,605.6 1608.5,605.6 1610.0,605.6 1611.5,605.7 1613.0,605.7 1614.5,605.7 1616.0,605.7 1617.5,605.8 1619.0,605.8 1620.5,605.8 1622.0,605.9 1623.5,605.9 1625.0,605.9 1626.5,606.0 1628.0,606.0 1629.5,606.1 1631.0,606.1 1632.5,606.1 1634.0,606.2 1635.5,606.2 1637.0,606.2 1638.5,606.3 1640.0,606.3 1641.5,606.3 1643.0,606.4 1644.5,606.4 1646.0,606.4 1647.5,606.5 1649.0,606.5 1650.5,606.5 1652.0,606.5 1653.5,606.6 1655.0,606.6 1656.5,606.6 1658.0,606.6 1659.5,606.7 1661.0,606.7 1662.5,606.7 1664.0,606.7 1665.5,606.7 1667.0,606.8 1668.5,606.8 1670.0,606.8 1671.5,606.8 1673.0,606.8 1674.5,606.9 1676.0,606.9 1677.5,606.9 1679.0,606.9 1680.5,607.0 1682.0,607.0 1683.5,607.0 1685.0,607.0 1686.5,607.0 1688.0,607.1 1689.5,607.1 1691.0,607.1 1692.5,607.1 1694.0,607.1 1695.5,607.2 1697.0,607.2 1698.5,607.2 1700.0,607.2 1701.5,607.2 1703.0,607.3 1704.5,607.3 1706.0,607.3"/>
<path stroke="#ff8000" d="M186.0,481.0L187.5,481.1 189.0,481.2 190.5,481.3 192.0,481.4 193.5,481.4 195.0,481.5 196.5,481.6 198.0,481.7 199.5,481.8 201.0,481.9 202.5,482.0 204.0,482.1 205.5,482.1 207.0,482.2 208.5,482.3 210.0,482.4 211.5,482.5 213.0,482.6 214.5,482.7 216.0,482.8 217.5,482.8 218.9,482.9 220.4,483.0 221.9,483.1 223.4,483.2 224.9,483.3 226.4,483.4 227.9,483.5 229.4,483.6 230.9,483.6 232.4,483.7 233.9,483.8 235.4,483.9 236.9,484.0 238.4,484.1 239.9,484.2 241.4,484.3 242.9,484.4 244.4,484.5 245.9,484.6 247.4,484.7 248.9,484.8 250.4,484.9 251.9,485.0 253.4,485.1 254.9,485.2 256.4,485.3 257.9,485.4 259.4,485.5 260.9,485.7 262.4,485.8 263.9,485.9 265.4,486.0 266.8,486.1 268.3,486.2 269.8,486.4 271.3,486.5 272.8,486.6 274.3,486.7 275.8,486.9 277.3,487.0 278.8,487.1 280.3,487.2 281.8,487.4 283.3,487.5 284.8,487.6 286.3,487.8 287.8,487.9 289.3,488.0 290.8,488.2 292.3,488.3 293.8,488.4 295.2,488.6 296.7,488.7 298.2,488.9 299.7,489.0 301.2,489.1 302.7,489.3 304.2,489.4 305.7,489.6 307.2,489.7 308.7,489.9 310.2,490.0 311.7,490.2 313.2,490.3 314.7,490.4 316.2,490.6 317.6,490.7 319.1,490.9 320.6,491.1 322.1,491.2 323.6,491.4 325.1,491.5 326.6,491.7 328.1,491.8 329.6,492.0 331.1,492.1 332.6,492.3 334.1,492.5 335.6,492.6 337.0,492.8 338.5,492.9 340.0,493.1 341.5,493.3 343.0,493.4 344.5,493.6 346.0,493.8 347.5,493.9 349.0,494.1 350.5,494.3 352.0,494.4 353.4,494.6 354.9,494.8 356.4,495.0 357.9,495.1 359.4,495.3 360.9,495.5 362.4,495.7 363.9,495.9 365.4,496.1 366.8,496.2 368.3,496.4 369.8,496.6 371.3,496.8 372.8,497.0 374.3,497.2 375.8,497.4 377.3,497.6 378.7,497.8 380.2,498.0 381.7,498.2 383.2,498.4 384.7,498.6 386.2,498.8 387.7,499.0 389.2,499.2 390.6,499.4 392.1,499.6 393.6,499.8 395.1,500.0 396.6,500.2 398.1,500.4 399.6,500.6 401.0,500.8 402.5,501.1 404.0,501.3 405.5,501.5 407.0,501.7 408.5,501.9 410.0,502.1 411.4,502.3 412.9,502.5 414.4,502.7 415.9,502.9 417.4,503.1 418.9,503.3 420.4,503.5 421.8,503.8 423.3,504.0 424.8,504.2 426.3,504.4 427.8,504.6 429.3,504.7 430.8,504.9 432.3,505.1 433.7,505.3 435.2,505.6 436.7,505.8 438.2,506.0 439.7,506.2 441.2,506.4 442.6,506.7 444.1,507.0 445.6,507.2 447.1,507.5 448.5,507.8 450.0,508.1 451.5,508.4 452.9,508.8 454.4,509.1 455.9,509.4 457.3,509.8 458.8,510.2 460.2,510.5 461.7,510.9 463.1,511.2 464.6,511.6 466.0,512.0 467.5,512.4 468.9,512.7 470.4,513.1 471.9,513.5 473.3,513.8 474.8,514.2 476.2,514.6 477.7,514.9 479.1,515.3 480.6,515.7 482.0,516.0 483.5,516.4 485.0,516.8 486.4,517.1 487.9,517.5 489.3,517.9 490.8,518.2 492.2,518.6 493.7,519.0 495.1,519.4 496.6,519.8 498.0,520.2 499.5,520.6 500.9,521.0 502.3,521.4 503.8,521.9 505.2,522.3 506.6,522.8 508.1,523.2 509.5,523.7 510.9,524.2 512.3,524.7 513.7,525.2 515.1,525.7 516.5,526.2 517.9,526.8 519.3,527.3 520.7,527.9 522.1,528.4 523.5,529.0 524.9,529.6 526.3,530.2 527.6,530.8 529.0,531.4 530.4,532.0 531.7,532.6 533.1,533.3 534.5,533.9 535.8,534.5 537.2,535.2 538.6,535.8 539.9,536.4 541.3,537.0 542.7,537.6 544.1,538.1 545.5,538.7 546.9,539.2 548.3,539.7 549.7,540.3 551.1,540.9 552.4,541.5 553.8,542.2 555.1,542.9 556.4,543.6 557.7,544.4 559.0,545.2 560.2,546.0 561.5,546.8 562.7,547.6 564.0,548.5 565.2,549.3 566.5,550.1 567.7,551.0 569.0,551.8 570.2,552.6 571.5,553.4 572.7,554.3 574.0,555.1 575.2,555.9 576.5,556.7 577.7,557.6 578.9,558.5 580.1,559.4 581.3,560.3 582.5,561.3 583.6,562.3 584.7,563.3 585.8,564.3 586.9,565.3 588.0,566.4 589.0,567.4 590.1,568.5 591.1,569.6 592.1,570.7 593.2,571.8 594.2,572.9 595.2,574.0 596.2,575.1 597.2,576.2 598.2,577.3 599.2,578.4 600.2,579.6 601.2,580.7 602.1,581.8 603.1,583.0 604.0,584.2 605.0,585.3 605.9,586.5 606.8,587.7 607.7,588.9 608.6,590.1 609.5,591.3 610.4,592.5 611.2,593.8 612.1,595.0 613.0,596.2 613.8,597.4 614.7,598.7 615.5,599.9 616.4,601.2 617.2,602.4 618.0,603.7 618.8,604.9 619.6,606.2 620.4,607.5 621.2,608.8 621.9,610.1 622.7,611.4 623.4,612.7 624.1,614.0 624.8,615.3 625.5,616.6 626.2,618.0 626.9,619.3 627.6,620.6 628.3,622.0 628.9,623.3 629.6,624.7 630.2,626.0 630.9,627.4 631.5,628.7 632.1,630.1 632.8,631.5 633.4,632.8 634.0,634.2 634.6,635.6 635.2,636.9 635.8,638.3 636.4,639.7 637.0,641.1 637.6,642.4 638.2,643.8 638.8,645.2 639.4,646.6 640.0,647.9 640.6,649.3 641.2,650.7 641.8,652.1 642.4,653.4 643.0,654.8 643.6,656.2 644.2,657.6 644.8,659.0 645.4,660.3 646.0,661.7 646.6,663.1 647.1,664.5 647.7,665.9 648.3,667.2 648.9,668.6 649.5,670.0 650.1,671.4 650.7,672.8 651.3,674.1 651.9,675.5 652.5,676.9 653.1,678.3 653.7,679.6 654.3,681.0 654.9,682.4 655.4,683.8 656.0,685.1 656.6,686.5 657.2,687.9 657.8,689.3 658.4,690.6 659.1,692.0 659.7,693.4 660.3,694.8 660.9,696.1 661.5,697.5 662.1,698.9 662.7,700.2 663.3,701.6 664.0,703.0 664.6,704.3 665.2,705.7 665.9,707.0 666.5,708.4 667.2,709.8 667.8,711.1 668.4,712.5 669.1,713.8 669.7,715.2 670.4,716.5 671.0,717.9 671.6,719.3 672.3,720.6 672.9,722.0 673.5,723.4 674.1,724.7 674.7,726.1 675.3,727.5 675.8,728.9 676.4,730.3 677.0,731.6 677.6,733.0 678.1,734.4 678.7,735.8 679.2,737.2 679.8,738.6 680.3,740.0 680.9,741.4 681.4,742.8 682.0,744.2 682.5,745.6 683.1,747.0 683.7,748.4 684.2,749.8 684.8,751.2 685.3,752.6 685.9,753.9 686.4,755.3 687.0,756.7 687.6,758.1 688.1,759.5 688.7,760.9 689.2,762.3 689.8,763.7 690.3,765.1 690.9,766.5 691.5,767.9 692.0,769.3 692.6,770.7 693.1,772.1 693.7,773.4 694.2,774.8 694.8,776.2 695.3,777.6 695.9,779.0 696.5,780.4 697.0,781.8 697.6,783.2 698.1,784.6 698.7,786.0 699.2,787.4 699.8,788.8 700.4,790.2 700.9,791.6 701.5,792.9 702.1,794.3 702.6,795.7 703.2,797.1 703.8,798.5 704.4,799.9 704.9,801.3 705.5,802.6 706.1,804.0 706.6,805.4 707.2,806.8 707.8,808.2 708.4,809.6 708.9,811.0 709.5,812.4 710.1,813.7 710.7,815.1 711.2,816.5 711.8,817.9 712.4,819.3 713.0,820.7 713.6,822.0 714.1,823.4 714.7,824.8 715.3,826.2 715.9,827.6 716.4,829.0 717.0,830.4 717.6,831.7 718.2,833.1 718.7,834.5 719.3,835.9 719.8,837.3 720.4,838.7 720.9,840.1 721.4,841.5 722.0,842.9 722.5,844.3 723.0,845.7 723.5,847.1 724.0,848.6 724.5,850.0 725.0,851.4 725.5,852.8 726.0,854.2 726.5,855.6 727.0,857.0 727.5,858.5 728.0,859.9 728.6,861.3 729.1,862.7 729.6,864.1 730.2,865.5 730.7,866.9 731.3,868.3 731.8,869.7 732.4,871.1 732.9,872.4 733.5,873.8 734.2,875.2 734.8,876.5 735.5,877.9 736.1,879.2 736.8,880.6 737.5,881.9 738.2,883.2 738.9,884.5 739.7,885.8 740.4,887.1 741.2,888.5 741.9,889.8 742.6,891.1 743.4,892.4 744.2,893.6 744.9,894.9 745.7,896.2 746.4,897.5 747.2,898.8 748.0,900.1 748.7,901.4 749.5,902.7 750.3,904.0 751.1,905.2 751.8,906.5 752.6,907.8 753.4,909.1 754.2,910.3 755.0,911.6 755.8,912.9 756.7,914.1 757.5,915.4 758.3,916.7 759.1,917.9 759.9,919.2 760.7,920.4 761.5,921.7 762.3,923.0 763.1,924.3 763.8,925.6 764.5,926.9 765.3,928.2 766.0,929.5 766.8,930.8 767.7,932.0 768.6,933.2 769.6,934.3 770.6,935.4 771.7,936.4 772.9,937.3 774.0,938.2 775.2,939.2 776.4,940.1 777.6,941.0 778.7,942.0 779.8,943.0 780.9,944.0 782.0,945.1 783.0,946.2 783.9,947.4 784.9,948.5 785.8,949.7 786.7,950.9 787.7,952.1 788.6,953.3 789.5,954.4 790.4,955.6 791.4,956.8 792.3,958.0 793.3,959.1 794.2,960.2 795.2,961.4 796.2,962.5 797.2,963.6 798.2,964.8 799.2,965.9 800.2,966.9 801.3,968.0 802.4,969.0 803.5,970.0 804.7,971.0 805.9,971.8 807.2,972.6 808.4,973.4 809.8,974.1 811.1,974.7 812.5,975.3 813.9,975.8 815.3,976.3 816.8,976.7 818.2,977.0 819.7,977.3 821.2,977.5 822.7,977.6 824.2,977.6 825.7,977.5 827.1,977.4 828.6,977.1 830.0,976.6 831.4,976.1 832.7,975.5 834.0,974.7 835.2,973.9 836.4,972.9 837.6,972.0 838.7,971.0 839.8,969.9 840.9,968.9 842.0,967.9 843.1,966.9 844.2,965.9 845.3,964.9 846.5,963.9 847.6,963.0 848.8,962.0 850.0,961.1 851.1,960.1 852.3,959.2 853.4,958.2 854.5,957.1 855.5,956.1 856.5,955.0 857.5,953.9 858.5,952.7 859.4,951.5 860.4,950.4 861.3,949.2 862.1,947.9 863.0,946.7 863.9,945.5 864.7,944.2 865.6,943.0 866.4,941.8 867.2,940.5 868.1,939.3 868.9,938.0 869.8,936.8 870.6,935.6 871.5,934.3 872.3,933.1 873.1,931.8 874.0,930.6 874.8,929.3 875.6,928.1 876.4,926.8 877.2,925.6 878.0,924.3 878.8,923.0 879.6,921.7 880.3,920.4 881.0,919.1 881.7,917.8 882.4,916.4 883.1,915.1 883.7,913.7 884.4,912.4 885.0,911.0 885.6,909.7 886.3,908.3 886.9,906.9 887.5,905.6 888.1,904.2 888.7,902.8 889.3,901.4 889.9,900.1 890.5,898.7 891.1,897.3 891.7,895.9 892.3,894.5 892.8,893.2 893.4,891.8 894.0,890.4 894.5,889.0 895.0,887.6 895.5,886.2 896.0,884.7 896.4,883.3 896.9,881.9 897.4,880.4 897.8,879.0 898.3,877.6 898.7,876.2 899.2,874.7 899.7,873.3 900.1,871.9 900.6,870.5 901.1,869.1 901.7,867.7 902.2,866.3 902.8,864.9 903.4,863.5 903.9,862.1 904.5,860.7 905.1,859.3 905.7,858.0 906.3,856.6 906.9,855.2 907.5,853.8 908.1,852.5 908.7,851.1 909.3,849.7 909.9,848.3 910.5,847.0 911.1,845.6 911.8,844.2 912.4,842.9 913.0,841.5 913.6,840.1 914.1,838.7 914.7,837.3 915.3,836.0 915.9,834.6 916.4,833.2 917.0,831.8 917.6,830.4 918.2,829.1 918.9,827.7 919.5,826.3 920.2,825.0 920.8,823.6 921.5,822.3 922.2,821.0 922.8,819.6 923.5,818.3 924.2,816.9 924.8,815.6 925.5,814.2 926.2,812.9 926.8,811.6 927.5,810.2 928.2,808.9 928.8,807.5 929.5,806.2 930.1,804.8 930.8,803.5 931.4,802.1 932.1,800.7 932.7,799.4 933.3,798.0 933.9,796.6 934.5,795.3 935.1,793.9 935.7,792.5 936.3,791.1 936.9,789.8 937.5,788.4 938.1,787.0 938.6,785.6 939.2,784.2 939.8,782.9 940.4,781.5 941.0,780.1 941.6,778.7 942.2,777.3 942.8,776.0 943.4,774.6 944.0,773.2 944.6,771.9 945.2,770.5 945.9,769.1 946.5,767.8 947.1,766.4 947.7,765.0 948.3,763.7 949.0,762.3 949.6,760.9 950.2,759.6 950.8,758.2 951.5,756.8 952.1,755.5 952.8,754.1 953.4,752.8 954.0,751.4 954.7,750.1 955.4,748.7 956.0,747.4 956.7,746.0 957.4,744.7 958.0,743.4 958.7,742.0 959.4,740.7 960.1,739.3 960.8,738.0 961.4,736.7 962.1,735.3 962.8,734.0 963.5,732.7 964.2,731.4 964.9,730.0 965.6,728.7 966.4,727.4 967.1,726.1 967.8,724.8 968.5,723.4 969.2,722.1 970.0,720.8 970.7,719.5 971.4,718.2 972.2,716.9 972.9,715.6 973.7,714.3 974.4,713.0 975.2,711.7 975.9,710.4 976.7,709.1 977.5,707.8 978.3,706.6 979.1,705.3 979.9,704.0 980.7,702.8 981.5,701.5 982.4,700.3 983.2,699.0 984.1,697.8 984.9,696.6 985.8,695.3 986.6,694.1 987.5,692.9 988.4,691.7 989.3,690.5 990.2,689.3 991.1,688.0 991.9,686.8 992.8,685.6 993.7,684.4 994.6,683.2 995.5,682.0 996.3,680.8 997.2,679.5 998.1,678.3 998.9,677.1 999.8,675.9 1000.6,674.6 1001.5,673.4 1002.3,672.1 1003.1,670.8 1003.9,669.5 1004.6,668.3 1005.4,667.0 1006.2,665.7 1006.9,664.4 1007.7,663.1 1008.5,661.8 1009.3,660.6 1010.1,659.3 1011.0,658.1 1011.9,656.9 1012.8,655.7 1013.7,654.5 1014.7,653.4 1015.7,652.3 1016.8,651.2 1017.9,650.2 1019.0,649.2 1020.1,648.2 1021.2,647.2 1022.3,646.2 1023.4,645.2 1024.5,644.2 1025.7,643.2 1026.8,642.1 1027.9,641.1 1029.0,640.2 1030.1,639.2 1031.3,638.2 1032.4,637.2 1033.6,636.3 1034.8,635.4 1036.0,634.5 1037.2,633.6 1038.4,632.8 1039.7,632.0 1041.0,631.2 1042.3,630.4 1043.6,629.7 1044.9,628.9 1046.2,628.2 1047.5,627.4 1048.7,626.6 1050.0,625.8 1051.2,624.9 1052.4,624.0 1053.6,623.0 1054.7,622.1 1055.9,621.2 1057.1,620.3 1058.3,619.4 1059.5,618.5 1060.8,617.7 1062.1,616.9 1063.4,616.2 1064.7,615.6 1066.1,614.9 1067.5,614.3 1068.9,613.8 1070.2,613.2 1071.6,612.6 1073.0,612.0 1074.4,611.4 1075.7,610.7 1077.1,610.1 1078.4,609.4 1079.8,608.7 1081.1,608.1 1082.5,607.4 1083.8,606.8 1085.2,606.2 1086.6,605.6 1087.9,605.0 1089.3,604.4 1090.7,603.8 1092.1,603.3 1093.5,602.8 1094.9,602.3 1096.4,601.8 1097.8,601.4 1099.2,600.9 1100.7,600.5 1102.1,600.1 1103.5,599.7 1105.0,599.2 1106.4,598.8 1107.9,598.4 1109.3,598.0 1110.7,597.6 1112.2,597.2 1113.6,596.8 1115.1,596.4 1116.5,596.0 1118.0,595.6 1119.4,595.3 1120.9,594.9 1122.4,594.5 1123.8,594.2 1125.3,593.9 1126.7,593.5 1128.2,593.2 1129.7,592.9 1131.2,592.6 1132.6,592.4 1134.1,592.1 1135.6,591.9 1137.1,591.6 1138.5,591.4 1140.0,591.1 1141.5,590.9 1143.0,590.7 1144.5,590.5 1146.0,590.3 1147.4,590.0 1148.9,589.8 1150.4,589.6 1151.9,589.4 1153.4,589.2 1154.9,588.9 1156.3,588.7 1157.8,588.5 1159.3,588.3 1160.8,588.0 1162.3,587.8 1163.8,587.6 1165.3,587.4 1166.7,587.2 1168.2,587.0 1169.7,586.8 1171.2,586.6 1172.7,586.4 1174.2,586.3 1175.7,586.1 1177.2,586.0 1178.7,585.8 1180.2,585.7 1181.7,585.7 1183.2,585.6 1184.7,585.6 1186.2,585.6 1187.7,585.6 1189.2,585.7 1190.7,585.7 1192.2,585.7 1193.7,585.7 1195.2,585.7 1196.7,585.7 1198.2,585.7 1199.7,585.7 1201.2,585.7 1202.7,585.7 1204.2,585.7 1205.7,585.7 1207.2,585.7 1208.7,585.7 1210.2,585.7 1211.7,585.7 1213.2,585.7 1214.7,585.7 1216.2,585.7 1217.7,585.7 1219.2,585.7 1220.7,585.7 1222.2,585.7 1223.7,585.7 1225.2,585.7 1226.7,585.7 1228.2,585.7 1229.7,585.7 1231.2,585.7 1232.7,585.7 1234.2,585.7 1235.7,585.7 1237.2,585.7 1238.7,585.7 1240.2,585.7 1241.7,585.7 1243.2,585.7 1244.7,585.7 1246.2,585.7 1247.7,585.7 1249.2,585.7 1250.7,585.7 1252.2,585.7 1253.7,585.7 1255.2,585.7 1256.7,585.7 1258.2,585.7 1259.7,585.7 1261.2,585.7 1262.7,585.7 1264.2,585.7 1265.7,585.7 1267.2,585.7 1268.7,585.7 1270.2,585.7 1271.7,585.7 1273.2,585.7 1274.7,585.7 1276.2,585.7 1277.7,585.7 1279.2,585.7 1280.7,585.7 1282.2,585.7 1283.7,585.7 1285.2,585.7 1286.7,585.7 1288.2,585.7 1289.7,585.7 1291.2,585.7 1292.7,585.7 1294.2,585.7 1295.7,585.7 1297.2,585.7 1298.7,585.7 1300.2,585.7 1301.7,585.7 1303.2,585.7 1304.7,585.7 1306.2,585.7 1307.7,585.7 1309.2,585.7 1310.7,585.7 1312.2,585.7 1313.7,585.7 1315.2,585.7 1316.7,585.7 1318.2,585.7 1319.7,585.7 1321.2,585.7 1322.7,585.7 1324.2,585.7 1325.7,585.7 1327.2,585.7 1328.7,585.7 1330.2,585.7 1331.7,585.7 1333.2,585.7 1334.7,585.7 1336.2,585.7 1337.7,585.7 1339.2,585.7 1340.7,585.6 1342.2,585.6 1343.7,585.6 1345.2,585.6 1346.7,585.6 1348.2,585.6 1349.7,585.6 1351.2,585.6 1352.7,585.6 1354.2,585.6 1355.7,585.6 1357.2,585.6 1358.7,585.7 1360.2,585.7 1361.7,585.7 1363.2,585.7 1364.7,585.7 1366.2,585.7 1367.7,585.7 1369.2,585.7 1370.7,585.7 1372.2,585.8 1373.7,585.8 1375.2,585.8 1376.7,585.8 1378.2,585.8 1379.7,585.9 1381.2,585.9 1382.7,585.9 1384.2,586.0 1385.7,586.0 1387.2,586.1 1388.7,586.1 1390.2,586.2 1391.7,586.2 1393.2,586.3 1394.7,586.3 1396.2,586.4 1397.7,586.4 1399.2,586.5 1400.7,586.5 1402.2,586.6 1403.7,586.6 1405.2,586.7 1406.7,586.7 1408.2,586.8 1409.7,586.8 1411.2,586.9 1412.7,586.9 1414.2,587.0 1415.7,587.0 1417.2,587.1 1418.7,587.1 1420.2,587.2 1421.7,587.2 1423.2,587.3 1424.7,587.4 1426.2,587.4 1427.7,587.5 1429.2,587.6 1430.7,587.6 1432.2,587.7 1433.7,587.8 1435.2,587.9 1436.7,587.9 1438.2,588.0 1439.6,588.1 1441.1,588.2 1442.6,588.3 1444.1,588.4 1445.6,588.4 1447.1,588.5 1448.6,588.6 1450.1,588.7 1451.6,588.8 1453.1,588.9 1454.6,589.0 1456.1,589.1 1457.6,589.2 1459.1,589.3 1460.6,589.3 1462.1,589.4 1463.6,589.5 1465.1,589.6 1466.6,589.7 1468.1,589.8 1469.6,589.9 1471.1,590.0 1472.6,590.1 1474.1,590.2 1475.6,590.2 1477.1,590.3 1478.6,590.4 1480.1,590.5 1481.6,590.6 1483.1,590.6 1484.6,590.7 1486.1,590.8 1487.6,590.9 1489.1,591.0 1490.6,591.1 1492.1,591.1 1493.6,591.2 1495.1,591.3 1496.6,591.4 1498.1,591.5 1499.6,591.6 1501.1,591.7 1502.6,591.8 1504.0,591.9 1505.5,592.0 1507.0,592.1 1508.5,592.2 1510.0,592.3 1511.5,592.4 1513.0,592.5 1514.5,592.7 1516.0,592.8 1517.5,592.9 1519.0,593.0 1520.5,593.2 1522.0,593.3 1523.5,593.4 1525.0,593.5 1526.5,593.7 1528.0,593.8 1529.5,593.9 1531.0,594.0 1532.5,594.2 1534.0,594.3 1535.5,594.4 1536.9,594.6 1538.4,594.7 1539.9,594.8 1541.4,594.9 1542.9,595.1 1544.4,595.2 1545.9,595.3 1547.4,595.4 1548.9,595.6 1550.4,595.7 1551.9,595.8 1553.4,595.9 1554.9,596.1 1556.4,596.2 1557.9,596.3 1559.4,596.4 1560.9,596.6 1562.4,596.7 1563.9,596.8 1565.3,597.0 1566.8,597.1 1568.3,597.2 1569.8,597.3 1571.3,597.5 1572.8,597.6 1574.3,597.7 1575.8,597.8 1577.3,598.0 1578.8,598.1 1580.3,598.2 1581.8,598.3 1583.3,598.4 1584.8,598.6 1586.3,598.7 1587.8,598.8 1589.3,598.9 1590.8,599.0 1592.3,599.1 1593.8,599.2 1595.3,599.3 1596.8,599.4 1598.3,599.5 1599.7,599.6 1601.2,599.7 1602.7,599.8 1604.2,599.9 1605.7,600.0 1607.2,600.1 1608.7,600.1 1610.2,600.2 1611.7,600.3 1613.2,600.4 1614.7,600.5 1616.2,600.5 1617.7,600.6 1619.2,600.7 1620.7,600.8 1622.2,600.8 1623.7,600.9 1625.2,601.0 1626.7,601.1 1628.2,601.1 1629.7,601.2 1631.2,601.3 1632.7,601.4 1634.2,601.4 1635.7,601.5 1637.2,601.6 1638.7,601.7 1640.2,601.8 1641.7,601.9 1643.2,602.0 1644.7,602.1 1646.2,602.2 1647.7,602.3 1649.2,602.4 1650.7,602.5 1652.2,602.6 1653.7,602.7 1655.2,602.8 1656.7,602.9 1658.2,603.0 1659.7,603.1 1661.2,603.2 1662.6,603.4 1664.1,603.5 1665.6,603.6 1667.1,603.7 1668.6,603.8 1670.1,604.0 1671.6,604.1 1673.1,604.2 1674.6,604.3 1676.1,604.5 1677.6,604.6 1679.1,604.7 1680.6,604.8 1682.1,605.0 1683.6,605.1 1685.1,605.2 1686.6,605.3 1688.1,605.5 1689.6,605.6 1691.1,605.7 1692.5,605.9 1694.0,606.0 1695.5,606.1 1697.0,606.2 1698.5,606.4 1700.0,606.5 1701.5,606.6 1703.0,606.7 1704.5,606.9 1706.0,607.0"/>
<path stroke="#0080ff" d="M186.0,485.0L187.5,485.1 189.0,485.2 190.5,485.2 192.0,485.3 193.5,485.4 195.0,485.5 196.5,485.5 198.0,485.6 199.5,485.7 201.0,485.8 202.5,485.8 204.0,485.9 205.5,486.0 207.0,486.0 208.5,486.1 210.0,486.2 211.5,486.3 213.0,486.3 214.5,486.4 216.0,486.5 217.5,486.6 219.0,486.6 220.5,486.7 222.0,486.8 223.5,486.9 225.0,486.9 226.5,487.0 228.0,487.1 229.5,487.2 231.0,487.3 232.5,487.3 234.0,487.4 235.4,487.5 236.9,487.6 238.4,487.7 239.9,487.8 241.4,487.8 242.9,487.9 244.4,488.0 245.9,488.1 247.4,488.2 248.9,488.3 250.4,488.4 251.9,488.5 253.4,488.6 254.9,488.7 256.4,488.8 257.9,488.9 259.4,489.0 260.9,489.1 262.4,489.2 263.9,489.3 265.4,489.4 266.9,489.5 268.4,489.6 269.9,489.8 271.4,489.9 272.9,490.0 274.4,490.1 275.9,490.2 277.4,490.4 278.9,490.5 280.4,490.6 281.8,490.8 283.3,490.9 284.8,491.0 286.3,491.2 287.8,491.3 289.3,491.4 290.8,491.6 292.3,491.7 293.8,491.8 295.3,492.0 296.8,492.1 298.3,492.3 299.8,492.4 301.3,492.6 302.8,492.7 304.3,492.9 305.7,493.0 307.2,493.2 308.7,493.3 310.2,493.5 311.7,493.6 313.2,493.8 314.7,493.9 316.2,494.1 317.7,494.2 319.2,494.4 320.7,494.5 322.2,494.7 323.7,494.9 325.1,495.0 326.6,495.2 328.1,495.3 329.6,495.5 331.1,495.7 332.6,495.8 334.1,496.0 335.6,496.2 337.1,496.3 338.6,496.5 340.1,496.7 341.6,496.8 343.0,497.0 344.5,497.2 346.0,497.3 347.5,497.5 349.0,497.7 350.5,497.9 352.0,498.0 353.5,498.2 355.0,498.4 356.5,498.6 357.9,498.8 359.4,498.9 360.9,499.1 362.4,499.3 363.9,499.5 365.4,499.7 366.9,499.9 368.4,500.1 369.8,500.3 371.3,500.5 372.8,500.7 374.3,500.9 375.8,501.1 377.3,501.3 378.8,501.5 380.3,501.7 381.7,501.9 383.2,502.1 384.7,502.3 386.2,502.5 387.7,502.7 389.2,502.9 390.7,503.1 392.1,503.3 393.6,503.5 395.1,503.7 396.6,504.0 398.1,504.2 399.6,504.4 401.1,504.6 402.5,504.8 404.0,505.0 405.5,505.2 407.0,505.4 408.5,505.7 410.0,505.9 411.5,506.1 412.9,506.3 414.4,506.5 415.9,506.7 417.4,506.9 418.9,507.1 420.4,507.3 421.9,507.6 423.3,507.8 424.8,508.0 426.3,508.2 427.8,508.4 429.3,508.6 430.8,508.8 432.3,509.0 433.8,509.2 435.2,509.4 436.7,509.6 438.2,509.8 439.7,510.0 441.2,510.2 442.7,510.5 444.1,510.8 445.6,511.0 447.1,511.3 448.5,511.6 450.0,511.9 451.5,512.3 452.9,512.6 454.4,513.0 455.9,513.3 457.3,513.7 458.8,514.0 460.2,514.4 461.7,514.8 463.1,515.2 464.6,515.6 466.0,515.9 467.5,516.3 468.9,516.7 470.4,517.1 471.8,517.5 473.3,517.8 474.7,518.2 476.2,518.6 477.6,518.9 479.1,519.3 480.6,519.6 482.0,520.0 483.5,520.3 484.9,520.7 486.4,521.1 487.9,521.4 489.3,521.8 490.8,522.1 492.2,522.5 493.7,522.9 495.1,523.2 496.6,523.6 498.0,524.0 499.5,524.4 500.9,524.8 502.4,525.2 503.8,525.6 505.2,526.1 506.7,526.5 508.1,526.9 509.5,527.4 511.0,527.9 512.4,528.3 513.8,528.8 515.2,529.3 516.6,529.8 518.0,530.3 519.5,530.9 520.8,531.4 522.2,532.0 523.6,532.6 525.0,533.2 526.4,533.8 527.7,534.4 529.1,535.1 530.4,535.7 531.8,536.4 533.1,537.0 534.5,537.7 535.8,538.3 537.2,539.0 538.5,539.6 539.9,540.2 541.3,540.8 542.7,541.4 544.0,542.0 545.4,542.5 546.9,543.1 548.3,543.6 549.7,544.1 551.0,544.7 552.4,545.3 553.7,546.0 555.1,546.7 556.3,547.5 557.6,548.3 558.9,549.1 560.1,549.9 561.3,550.8 562.6,551.6 563.8,552.5 565.0,553.4 566.2,554.3 567.5,555.1 568.7,556.0 569.9,556.8 571.2,557.6 572.5,558.4 573.7,559.2 575.0,560.0 576.3,560.8 577.6,561.6 578.8,562.5 580.0,563.3 581.2,564.2 582.4,565.2 583.5,566.1 584.6,567.1 585.7,568.1 586.8,569.2 587.9,570.2 589.0,571.3 590.0,572.4 591.0,573.5 592.0,574.6 593.0,575.7 594.0,576.9 594.9,578.1 595.8,579.2 596.7,580.4 597.6,581.6 598.5,582.8 599.4,584.0 600.3,585.2 601.2,586.4 602.2,587.6 603.1,588.8 604.1,589.9 605.0,591.1 606.0,592.2 607.0,593.4 608.0,594.5 609.0,595.6 609.9,596.7 610.9,597.9 611.9,599.0 612.9,600.2 613.8,601.3 614.8,602.5 615.7,603.7 616.6,604.9 617.4,606.1 618.3,607.3 619.1,608.6 619.9,609.8 620.7,611.1 621.5,612.4 622.2,613.7 623.0,615.0 623.7,616.3 624.4,617.7 625.1,619.0 625.8,620.3 626.5,621.7 627.1,623.0 627.8,624.3 628.5,625.7 629.1,627.0 629.8,628.4 630.4,629.8 631.0,631.1 631.7,632.5 632.3,633.8 632.9,635.2 633.5,636.6 634.1,638.0 634.7,639.3 635.3,640.7 635.9,642.1 636.5,643.5 637.1,644.8 637.7,646.2 638.3,647.6 638.9,649.0 639.5,650.3 640.1,651.7 640.7,653.1 641.3,654.5 641.8,655.9 642.4,657.2 643.0,658.6 643.6,660.0 644.2,661.4 644.7,662.8 645.3,664.2 645.9,665.5 646.5,666.9 647.1,668.3 647.7,669.7 648.3,671.1 648.8,672.4 649.4,673.8 650.0,675.2 650.7,676.6 651.3,677.9 651.9,679.3 652.5,680.7 653.1,682.1 653.7,683.4 654.3,684.8 654.9,686.2 655.6,687.5 656.2,688.9 656.8,690.3 657.4,691.6 658.0,693.0 658.6,694.4 659.2,695.7 659.8,697.1 660.4,698.5 661.0,699.9 661.6,701.2 662.2,702.6 662.8,704.0 663.4,705.4 664.0,706.8 664.6,708.2 665.1,709.5 665.7,710.9 666.3,712.3 666.9,713.7 667.4,715.1 668.0,716.5 668.6,717.9 669.1,719.3 669.7,720.7 670.2,722.0 670.8,723.4 671.3,724.8 671.9,726.2 672.4,727.6 673.0,729.0 673.5,730.4 674.1,731.8 674.6,733.2 675.2,734.6 675.7,736.0 676.2,737.4 676.8,738.8 677.3,740.2 677.8,741.6 678.3,743.0 678.8,744.5 679.3,745.9 679.8,747.3 680.3,748.7 680.8,750.1 681.2,751.6 681.7,753.0 682.1,754.4 682.5,755.9 682.9,757.3 683.3,758.8 683.7,760.2 684.2,761.7 684.6,763.1 685.0,764.5 685.4,766.0 685.8,767.4 686.2,768.9 686.6,770.3 687.0,771.8 687.4,773.2 687.8,774.6 688.3,776.1 688.7,777.5 689.2,778.9 689.6,780.4 690.1,781.8 690.5,783.2 691.0,784.6 691.5,786.1 692.0,787.5 692.6,788.9 693.1,790.3 693.7,791.7 694.3,793.0 694.9,794.4 695.5,795.8 696.1,797.2 696.7,798.5 697.3,799.9 697.9,801.3 698.6,802.6 699.2,804.0 699.8,805.4 700.4,806.7 701.0,808.1 701.6,809.5 702.2,810.9 702.8,812.2 703.3,813.6 703.9,815.0 704.4,816.4 705.0,817.8 705.5,819.2 706.0,820.6 706.5,822.1 707.0,823.5 707.5,824.9 708.0,826.3 708.5,827.7 709.0,829.1 709.4,830.6 709.9,832.0 710.4,833.4 710.9,834.8 711.4,836.3 711.8,837.7 712.3,839.1 712.8,840.5 713.3,841.9 713.8,843.4 714.2,844.8 714.7,846.2 715.1,847.6 715.6,849.1 716.1,850.5 716.5,851.9 717.0,853.4 717.5,854.8 717.9,856.2 718.4,857.6 718.9,859.0 719.4,860.5 719.9,861.9 720.5,863.3 721.0,864.7 721.6,866.0 722.2,867.4 722.8,868.8 723.5,870.1 724.2,871.5 724.8,872.8 725.5,874.2 726.1,875.5 726.7,876.9 727.3,878.3 727.8,879.7 728.3,881.1 728.8,882.5 729.3,883.9 729.7,885.4 730.2,886.8 730.6,888.2 731.0,889.7 731.4,891.1 731.8,892.6 732.3,894.0 732.7,895.5 733.1,896.9 733.5,898.3 733.9,899.8 734.3,901.2 734.7,902.7 735.2,904.1 735.6,905.5 736.1,907.0 736.5,908.4 736.9,909.8 737.3,911.3 737.8,912.7 738.2,914.1 738.6,915.6 739.1,917.0 739.5,918.4 740.0,919.9 740.5,921.3 741.0,922.7 741.5,924.1 742.0,925.5 742.5,926.9 743.1,928.3 743.6,929.7 744.2,931.1 744.9,932.5 745.5,933.8 746.2,935.2 746.8,936.5 747.5,937.9 748.2,939.2 748.9,940.5 749.6,941.8 750.3,943.2 751.0,944.5 751.7,945.8 752.4,947.2 753.1,948.5 753.7,949.8 754.4,951.2 755.0,952.5 755.6,953.9 756.3,955.3 756.8,956.7 757.4,958.0 758.0,959.4 758.5,960.8 759.1,962.2 759.6,963.6 760.2,965.0 760.7,966.4 761.2,967.8 761.8,969.2 762.3,970.6 762.9,972.0 763.4,973.4 764.0,974.8 764.6,976.2 765.1,977.6 765.7,979.0 766.3,980.3 766.8,981.7 767.4,983.1 768.0,984.5 768.6,985.9 769.2,987.3 769.8,988.7 770.3,990.0 771.0,991.4 771.6,992.8 772.2,994.1 772.8,995.5 773.5,996.8 774.1,998.2 774.8,999.5 775.6,1000.8 776.4,1002.1 777.2,1003.4 778.0,1004.6 778.9,1005.8 779.8,1007.0 780.7,1008.2 781.7,1009.4 782.6,1010.6 783.4,1011.8 784.3,1013.0 785.1,1014.3 785.8,1015.6 786.5,1016.9 787.2,1018.3 787.8,1019.6 788.4,1021.0 788.9,1022.4 789.5,1023.8 790.0,1025.2 790.6,1026.6 791.1,1028.0 791.7,1029.4 792.3,1030.8 792.8,1032.1 793.4,1033.5 794.1,1034.9 794.7,1036.2 795.4,1037.6 796.1,1038.9 796.8,1040.2 797.5,1041.5 798.3,1042.8 799.0,1044.1 799.8,1045.4 800.6,1046.7 801.3,1048.0 802.1,1049.3 802.9,1050.5 803.8,1051.8 804.6,1053.0 805.4,1054.3 806.3,1055.5 807.2,1056.7 808.0,1057.9 808.9,1059.1 809.8,1060.3 810.8,1061.5 811.7,1062.7 812.7,1063.9 813.6,1065.0 814.7,1066.1 815.7,1067.2 816.8,1068.2 817.9,1069.2 819.0,1070.1 820.2,1071.1 821.5,1071.9 822.7,1072.7 824.0,1073.5 825.3,1074.2 826.6,1074.9 828.0,1075.5 829.4,1076.1 830.8,1076.5 832.3,1076.9 833.7,1077.2 835.2,1077.4 836.7,1077.5 838.2,1077.4 839.7,1077.3 841.1,1077.1 842.6,1076.8 844.0,1076.3 845.4,1075.8 846.8,1075.3 848.2,1074.6 849.5,1073.9 850.7,1073.1 851.9,1072.2 853.1,1071.3 854.3,1070.3 855.4,1069.4 856.5,1068.3 857.6,1067.3 858.6,1066.2 859.6,1065.1 860.6,1064.0 861.6,1062.8 862.6,1061.7 863.5,1060.6 864.5,1059.4 865.4,1058.2 866.4,1057.0 867.3,1055.9 868.2,1054.7 869.1,1053.5 870.0,1052.2 870.8,1051.0 871.7,1049.8 872.5,1048.5 873.4,1047.3 874.2,1046.0 875.0,1044.8 875.8,1043.5 876.6,1042.3 877.4,1041.0 878.2,1039.7 879.0,1038.4 879.8,1037.1 880.5,1035.8 881.3,1034.6 882.0,1033.3 882.8,1032.0 883.5,1030.7 884.3,1029.3 885.0,1028.0 885.7,1026.7 886.4,1025.4 887.2,1024.1 887.9,1022.8 888.6,1021.4 889.3,1020.1 890.0,1018.8 890.7,1017.5 891.3,1016.1 892.0,1014.8 892.7,1013.4 893.3,1012.1 894.0,1010.7 894.6,1009.4 895.3,1008.0 895.9,1006.7 896.5,1005.3 897.1,1003.9 897.7,1002.5 898.3,1001.2 898.9,999.8 899.4,998.4 899.9,997.0 900.5,995.6 901.0,994.2 901.5,992.7 902.0,991.3 902.5,989.9 903.0,988.5 903.4,987.1 903.9,985.7 904.4,984.2 904.9,982.8 905.4,981.4 905.9,980.0 906.4,978.6 906.9,977.1 907.4,975.7 907.8,974.3 908.3,972.9 908.8,971.5 909.3,970.0 909.7,968.6 910.2,967.2 910.7,965.8 911.1,964.3 911.6,962.9 912.1,961.5 912.5,960.1 913.0,958.6 913.5,957.2 914.0,955.8 914.4,954.4 914.9,952.9 915.4,951.5 915.9,950.1 916.4,948.7 916.8,947.3 917.3,945.8 917.8,944.4 918.3,943.0 918.8,941.6 919.3,940.2 919.8,938.7 920.3,937.3 920.8,935.9 921.4,934.5 922.0,933.2 922.6,931.8 923.3,930.5 924.0,929.1 924.7,927.8 925.5,926.6 926.3,925.3 927.0,924.0 927.7,922.6 928.4,921.3 928.9,919.9 929.5,918.5 930.0,917.1 930.4,915.7 930.9,914.2 931.3,912.8 931.7,911.4 932.1,909.9 932.5,908.5 932.9,907.0 933.3,905.6 933.7,904.1 934.2,902.7 934.6,901.3 935.1,899.8 935.6,898.4 936.1,897.0 936.6,895.6 937.2,894.2 937.7,892.8 938.3,891.4 938.9,890.1 939.5,888.7 940.1,887.3 940.6,885.9 941.2,884.5 941.8,883.1 942.3,881.7 942.9,880.3 943.4,878.9 944.0,877.6 944.5,876.2 945.1,874.8 945.7,873.4 946.2,872.0 946.8,870.6 947.3,869.2 947.9,867.8 948.4,866.4 949.0,865.0 949.5,863.6 950.1,862.2 950.7,860.8 951.2,859.4 951.8,858.0 952.3,856.6 952.9,855.3 953.4,853.9 954.0,852.5 954.5,851.1 955.1,849.7 955.7,848.3 956.2,846.9 956.8,845.5 957.3,844.1 957.9,842.7 958.5,841.3 959.1,840.0 959.7,838.6 960.3,837.2 960.9,835.8 961.5,834.5 962.2,833.1 962.8,831.8 963.5,830.4 964.1,829.0 964.6,827.7 965.2,826.3 965.8,824.9 966.3,823.5 966.8,822.1 967.4,820.7 967.9,819.3 968.5,817.9 969.0,816.5 969.5,815.1 970.1,813.7 970.6,812.3 971.1,810.9 971.7,809.5 972.2,808.1 972.8,806.7 973.3,805.3 973.9,803.9 974.5,802.5 975.0,801.1 975.6,799.7 976.2,798.3 976.7,797.0 977.3,795.6 977.9,794.2 978.5,792.8 979.1,791.4 979.7,790.0 980.2,788.7 980.8,787.3 981.4,785.9 982.0,784.5 982.6,783.2 983.3,781.8 983.9,780.4 984.5,779.1 985.1,777.7 985.8,776.3 986.4,775.0 987.1,773.6 987.7,772.3 988.4,771.0 989.2,769.7 989.9,768.4 990.7,767.1 991.5,765.8 992.3,764.5 993.0,763.2 993.8,761.9 994.6,760.7 995.3,759.4 996.0,758.0 996.8,756.7 997.5,755.4 998.1,754.1 998.8,752.7 999.5,751.4 1000.2,750.0 1000.9,748.7 1001.5,747.4 1002.2,746.0 1002.9,744.7 1003.5,743.3 1004.2,742.0 1004.9,740.7 1005.6,739.3 1006.3,738.0 1007.0,736.7 1007.7,735.4 1008.4,734.0 1009.2,732.7 1009.9,731.4 1010.7,730.1 1011.4,728.8 1012.2,727.6 1013.0,726.3 1013.8,725.0 1014.6,723.8 1015.4,722.5 1016.2,721.2 1017.1,720.0 1017.9,718.7 1018.7,717.5 1019.5,716.2 1020.4,715.0 1021.2,713.7 1022.1,712.5 1022.9,711.3 1023.7,710.0 1024.6,708.8 1025.4,707.5 1026.3,706.3 1027.2,705.1 1028.0,703.9 1028.9,702.6 1029.8,701.4 1030.7,700.2 1031.6,699.0 1032.5,697.8 1033.4,696.6 1034.3,695.4 1035.2,694.3 1036.2,693.1 1037.2,692.0 1038.1,690.8 1039.1,689.7 1040.1,688.6 1041.1,687.5 1042.2,686.4 1043.2,685.3 1044.2,684.2 1045.3,683.1 1046.3,682.0 1047.4,681.0 1048.4,679.9 1049.5,678.9 1050.6,677.8 1051.6,676.8 1052.7,675.7 1053.8,674.7 1054.9,673.6 1055.9,672.6 1057.0,671.5 1058.0,670.4 1059.1,669.3 1060.1,668.3 1061.2,667.2 1062.2,666.1 1063.3,665.0 1064.3,664.0 1065.4,662.9 1066.4,661.9 1067.5,660.8 1068.6,659.8 1069.8,658.8 1070.9,657.9 1072.1,656.9 1073.2,656.0 1074.4,655.0 1075.6,654.1 1076.8,653.3 1078.1,652.4 1079.3,651.6 1080.6,650.8 1081.9,650.0 1083.2,649.3 1084.5,648.6 1085.9,647.9 1087.2,647.2 1088.5,646.6 1089.9,645.9 1091.2,645.2 1092.6,644.5 1093.9,643.9 1095.2,643.2 1096.6,642.5 1097.9,641.8 1099.2,641.1 1100.6,640.5 1101.9,639.8 1103.3,639.2 1104.7,638.5 1106.0,637.9 1107.4,637.3 1108.8,636.7 1110.1,636.1 1111.5,635.5 1112.9,634.9 1114.2,634.3 1115.6,633.7 1117.0,633.1 1118.4,632.5 1119.8,631.9 1121.1,631.3 1122.5,630.7 1123.9,630.2 1125.3,629.6 1126.7,629.1 1128.1,628.5 1129.5,628.0 1130.9,627.5 1132.3,627.0 1133.8,626.5 1135.2,626.0 1136.6,625.5 1138.0,625.1 1139.4,624.6 1140.9,624.1 1142.3,623.7 1143.7,623.3 1145.2,622.8 1146.6,622.4 1148.1,622.0 1149.5,621.6 1151.0,621.2 1152.4,620.8 1153.9,620.4 1155.3,620.1 1156.8,619.7 1158.2,619.4 1159.7,619.1 1161.2,618.8 1162.6,618.5 1164.1,618.2 1165.6,617.9 1167.1,617.6 1168.5,617.4 1170.0,617.1 1171.5,616.8 1173.0,616.6 1174.4,616.3 1175.9,616.0 1177.4,615.7 1178.8,615.3 1180.3,614.9 1181.7,614.5 1183.2,614.2 1184.6,613.9 1186.1,613.6 1187.6,613.4 1189.1,613.1 1190.6,612.9 1192.0,612.7 1193.5,612.5 1195.0,612.4 1196.5,612.2 1198.0,612.0 1199.5,611.8 1201.0,611.6 1202.5,611.4 1204.0,611.3 1205.4,611.1 1206.9,610.9 1208.4,610.7 1209.9,610.5 1211.4,610.4 1212.9,610.2 1214.4,610.0 1215.9,609.8 1217.4,609.6 1218.8,609.5 1220.3,609.3 1221.8,609.1 1223.3,608.9 1224.8,608.7 1226.3,608.5 1227.8,608.3 1229.3,608.1 1230.7,607.9 1232.2,607.7 1233.7,607.5 1235.2,607.3 1236.7,607.1 1238.2,606.9 1239.7,606.7 1241.2,606.5 1242.6,606.3 1244.1,606.1 1245.6,605.9 1247.1,605.8 1248.6,605.6 1250.1,605.4 1251.6,605.3 1253.1,605.1 1254.6,605.0 1256.1,604.9 1257.6,604.7 1259.1,604.6 1260.6,604.5 1262.1,604.4 1263.6,604.3 1265.0,604.2 1266.5,604.1 1268.0,604.1 1269.5,604.0 1271.0,603.9 1272.5,603.9 1274.0,603.8 1275.5,603.7 1277.0,603.7 1278.5,603.6 1280.0,603.6 1281.5,603.5 1283.0,603.5 1284.5,603.4 1286.0,603.3 1287.5,603.3 1289.0,603.2 1290.5,603.2 1292.0,603.1 1293.5,603.1 1295.0,603.0 1296.5,602.9 1298.0,602.9 1299.5,602.8 1301.0,602.8 1302.5,602.7 1304.0,602.6 1305.5,602.6 1307.0,602.5 1308.5,602.5 1310.0,602.4 1311.5,602.4 1313.0,602.3 1314.5,602.3 1316.0,602.2 1317.5,602.1 1319.0,602.1 1320.5,602.0 1322.0,602.0 1323.5,602.0 1325.0,601.9 1326.5,601.9 1328.0,601.8 1329.5,601.8 1331.0,601.7 1332.5,601.7 1334.0,601.7 1335.5,601.6 1337.0,601.6 1338.5,601.6 1340.0,601.5 1341.5,601.5 1343.0,601.5 1344.5,601.5 1346.0,601.4 1347.5,601.4 1349.0,601.4 1350.5,601.4 1352.0,601.4 1353.5,601.4 1355.0,601.3 1356.5,601.3 1358.0,601.3 1359.5,601.3 1361.0,601.3 1362.5,601.3 1364.0,601.3 1365.5,601.3 1367.0,601.3 1368.5,601.3 1370.0,601.3 1371.5,601.3 1373.0,601.3 1374.5,601.3 1376.0,601.3 1377.5,601.3 1379.0,601.3 1380.5,601.3 1382.0,601.3 1383.5,601.3 1385.0,601.3 1386.5,601.3 1388.0,601.3 1389.5,601.3 1391.0,601.3 1392.5,601.3 1394.0,601.3 1395.5,601.3 1397.0,601.3 1398.5,601.3 1400.0,601.3 1401.5,601.3 1403.0,601.3 1404.5,601.3 1406.0,601.3 1407.5,601.3 1409.0,601.3 1410.5,601.3 1412.0,601.3 1413.5,601.3 1415.0,601.3 1416.5,601.3 1418.0,601.3 1419.5,601.3 1421.0,601.3 1422.5,601.3 1424.0,601.3 1425.5,601.3 1427.0,601.3 1428.5,601.3 1430.0,601.3 1431.5,601.3 1433.0,601.3 1434.5,601.3 1436.0,601.3 1437.5,601.3 1439.0,601.3 1440.5,601.3 1442.0,601.3 1443.5,601.3 1445.0,601.3 1446.5,601.3 1448.0,601.3 1449.5,601.3 1451.0,601.3 1452.5,601.3 1454.0,601.3 1455.5,601.3 1457.0,601.4 1458.5,601.4 1460.0,601.4 1461.5,601.4 1463.0,601.4 1464.5,601.4 1466.0,601.4 1467.5,601.4 1469.0,601.4 1470.6,601.4 1472.1,601.4 1473.6,601.4 1475.1,601.4 1476.6,601.4 1478.1,601.4 1479.6,601.4 1481.1,601.4 1482.6,601.4 1484.1,601.4 1485.6,601.5 1487.1,601.5 1488.6,601.5 1490.1,601.5 1491.6,601.5 1493.1,601.5 1494.6,601.5 1496.1,601.5 1497.6,601.5 1499.1,601.5 1500.6,601.5 1502.1,601.5 1503.6,601.5 1505.1,601.5 1506.6,601.5 1508.1,601.5 1509.6,601.6 1511.1,601.6 1512.6,601.6 1514.1,601.6 1515.6,601.6 1517.1,601.6 1518.6,601.6 1520.1,601.6 1521.6,601.6 1523.1,601.6 1524.6,601.7 1526.1,601.7 1527.6,601.7 1529.1,601.7 1530.6,601.7 1532.1,601.7 1533.6,601.8 1535.1,601.8 1536.6,601.8 1538.1,601.8 1539.6,601.8 1541.1,601.9 1542.6,601.9 1544.1,601.9 1545.6,602.0 1547.1,602.0 1548.6,602.0 1550.1,602.1 1551.6,602.1 1553.1,602.1 1554.6,602.2 1556.1,602.2 1557.6,602.2 1559.1,602.3 1560.6,602.3 1562.1,602.4 1563.6,602.4 1565.1,602.5 1566.6,602.5 1568.1,602.6 1569.6,602.6 1571.1,602.7 1572.6,602.7 1574.1,602.8 1575.6,602.8 1577.1,602.9 1578.6,603.0 1580.1,603.0 1581.6,603.1 1583.1,603.1 1584.6,603.2 1586.1,603.3 1587.6,603.3 1589.1,603.4 1590.6,603.5 1592.1,603.5 1593.6,603.6 1595.0,603.6 1596.5,603.7 1598.0,603.8 1599.5,603.8 1601.0,603.9 1602.5,604.0 1604.0,604.1 1605.5,604.1 1607.0,604.2 1608.5,604.3 1610.0,604.4 1611.5,604.5 1613.0,604.5 1614.5,604.6 1616.0,604.7 1617.5,604.8 1619.0,604.9 1620.5,605.0 1622.0,605.1 1623.5,605.1 1625.0,605.2 1626.5,605.3 1628.0,605.4 1629.5,605.5 1631.0,605.6 1632.5,605.6 1634.0,605.7 1635.5,605.8 1637.0,605.9 1638.5,605.9 1640.0,606.0 1641.5,606.1 1643.0,606.1 1644.5,606.2 1646.0,606.3 1647.5,606.3 1649.0,606.4 1650.5,606.4 1652.0,606.5 1653.5,606.5 1655.0,606.5 1656.5,606.6 1658.0,606.6 1659.5,606.7 1661.0,606.7 1662.5,606.7 1664.0,606.8 1665.5,606.8 1667.0,606.8 1668.5,606.8 1670.0,606.9 1671.5,606.9 1673.0,606.9 1674.5,606.9 1676.0,606.9 1677.5,607.0 1679.0,607.0 1680.5,607.0 1682.0,607.0 1683.5,607.0 1685.0,607.1 1686.5,607.1 1688.0,607.1 1689.5,607.1 1691.0,607.1 1692.5,607.1 1694.0,607.2 1695.5,607.2 1697.0,607.2 1698.5,607.2 1700.0,607.2 1701.5,607.2 1703.0,607.3 1704.5,607.3 1706.0,607.3"/>
</g>
<g stroke="#000" fill="none"><line x1="187.0" y1="53.65" x2="218.5" y2="53.65" stroke-width="6"/><line x1="187.0" y1="331.40" x2="218.5" y2="331.40" stroke-width="6"/><line x1="187.0" y1="609.15" x2="218.5" y2="609.15" stroke-width="6"/><line x1="187.0" y1="886.90" x2="218.5" y2="886.90" stroke-width="6"/><line x1="187.0" y1="1164.65" x2="218.5" y2="1164.65" stroke-width="6"/><line x1="187.0" y1="1442.40" x2="218.5" y2="1442.40" stroke-width="6"/><line x1="187.0" y1="1386.85" x2="204.5" y2="1386.85" stroke-width="2.6"/><line x1="187.0" y1="1331.30" x2="204.5" y2="1331.30" stroke-width="2.6"/><line x1="187.0" y1="1275.75" x2="204.5" y2="1275.75" stroke-width="2.6"/><line x1="187.0" y1="1220.20" x2="204.5" y2="1220.20" stroke-width="2.6"/><line x1="187.0" y1="1109.10" x2="204.5" y2="1109.10" stroke-width="2.6"/><line x1="187.0" y1="1053.55" x2="204.5" y2="1053.55" stroke-width="2.6"/><line x1="187.0" y1="998.00" x2="204.5" y2="998.00" stroke-width="2.6"/><line x1="187.0" y1="942.45" x2="204.5" y2="942.45" stroke-width="2.6"/><line x1="187.0" y1="831.35" x2="204.5" y2="831.35" stroke-width="2.6"/><line x1="187.0" y1="775.80" x2="204.5" y2="775.80" stroke-width="2.6"/><line x1="187.0" y1="720.25" x2="204.5" y2="720.25" stroke-width="2.6"/><line x1="187.0" y1="664.70" x2="204.5" y2="664.70" stroke-width="2.6"/><line x1="187.0" y1="553.60" x2="204.5" y2="553.60" stroke-width="2.6"/><line x1="187.0" y1="498.05" x2="204.5" y2="498.05" stroke-width="2.6"/><line x1="187.0" y1="442.50" x2="204.5" y2="442.50" stroke-width="2.6"/><line x1="187.0" y1="386.95" x2="204.5" y2="386.95" stroke-width="2.6"/><line x1="187.0" y1="275.85" x2="204.5" y2="275.85" stroke-width="2.6"/><line x1="187.0" y1="220.30" x2="204.5" y2="220.30" stroke-width="2.6"/><line x1="187.0" y1="164.75" x2="204.5" y2="164.75" stroke-width="2.6"/><line x1="187.0" y1="109.20" x2="204.5" y2="109.20" stroke-width="2.6"/><line x1="242.44" y1="1486.6" x2="242.44" y2="1455" stroke-width="6"/><line x1="447.47" y1="1486.6" x2="447.47" y2="1455" stroke-width="6"/><line x1="652.50" y1="1486.6" x2="652.50" y2="1455" stroke-width="6"/><line x1="857.53" y1="1486.6" x2="857.53" y2="1455" stroke-width="6"/><line x1="1062.56" y1="1486.6" x2="1062.56" y2="1455" stroke-width="6"/><line x1="1267.59" y1="1486.6" x2="1267.59" y2="1455" stroke-width="6"/><line x1="1472.62" y1="1486.6" x2="1472.62" y2="1455" stroke-width="6"/><line x1="1677.65" y1="1486.6" x2="1677.65" y2="1455" stroke-width="6"/><line x1="201.43" y1="1486.6" x2="201.43" y2="1466.5" stroke-width="3"/><line x1="283.45" y1="1486.6" x2="283.45" y2="1466.5" stroke-width="3"/><line x1="324.45" y1="1486.6" x2="324.45" y2="1466.5" stroke-width="3"/><line x1="365.46" y1="1486.6" x2="365.46" y2="1466.5" stroke-width="3"/><line x1="406.46" y1="1486.6" x2="406.46" y2="1466.5" stroke-width="3"/><line x1="488.48" y1="1486.6" x2="488.48" y2="1466.5" stroke-width="3"/><line x1="529.48" y1="1486.6" x2="529.48" y2="1466.5" stroke-width="3"/><line x1="570.49" y1="1486.6" x2="570.49" y2="1466.5" stroke-width="3"/><line x1="611.49" y1="1486.6" x2="611.49" y2="1466.5" stroke-width="3"/><line x1="693.51" y1="1486.6" x2="693.51" y2="1466.5" stroke-width="3"/><line x1="734.51" y1="1486.6" x2="734.51" y2="1466.5" stroke-width="3"/><line x1="775.52" y1="1486.6" x2="775.52" y2="1466.5" stroke-width="3"/><line x1="816.52" y1="1486.6" x2="816.52" y2="1466.5" stroke-width="3"/><line x1="898.54" y1="1486.6" x2="898.54" y2="1466.5" stroke-width="3"/><line x1="939.54" y1="1486.6" x2="939.54" y2="1466.5" stroke-width="3"/><line x1="980.55" y1="1486.6" x2="980.55" y2="1466.5" stroke-width="3"/><line x1="1021.55" y1="1486.6" x2="1021.55" y2="1466.5" stroke-width="3"/><line x1="1103.57" y1="1486.6" x2="1103.57" y2="1466.5" stroke-width="3"/><line x1="1144.57" y1="1486.6" x2="1144.57" y2="1466.5" stroke-width="3"/><line x1="1185.58" y1="1486.6" x2="1185.58" y2="1466.5" stroke-width="3"/><line x1="1226.58" y1="1486.6" x2="1226.58" y2="1466.5" stroke-width="3"/><line x1="1308.60" y1="1486.6" x2="1308.60" y2="1466.5" stroke-width="3"/><line x1="1349.60" y1="1486.6" x2="1349.60" y2="1466.5" stroke-width="3"/><line x1="1390.61" y1="1486.6" x2="1390.61" y2="1466.5" stroke-width="3"/><line x1="1431.61" y1="1486.6" x2="1431.61" y2="1466.5" stroke-width="3"/><line x1="1513.63" y1="1486.6" x2="1513.63" y2="1466.5" stroke-width="3"/><line x1="1554.63" y1="1486.6" x2="1554.63" y2="1466.5" stroke-width="3"/><line x1="1595.64" y1="1486.6" x2="1595.64" y2="1466.5" stroke-width="3"/><line x1="1636.64" y1="1486.6" x2="1636.64" y2="1466.5" stroke-width="3"/></g>
<g stroke="#000" stroke-linecap="butt" fill="none"><line x1="186.50" y1="54.00" x2="1703.10" y2="54.00" stroke-width="5.6"/><line x1="187.00" y1="54.50" x2="187.00" y2="1486.60" stroke-width="6"/><line x1="186.50" y1="1486.60" x2="1702.60" y2="1486.60" stroke-width="5.5"/><line x1="1703.10" y1="54.00" x2="1703.10" y2="1486.60" stroke-width="5.85"/></g>
<g font-family="'Liberation Serif', 'Times New Roman', serif" font-size="58.5" fill="#000"><text transform="translate(167.5,73.1) scale(0.945,1)" text-anchor="end">1</text><text transform="translate(167.5,350.9) scale(0.945,1)" text-anchor="end">0.5</text><text transform="translate(167.5,628.6) scale(0.945,1)" text-anchor="end">0</text><text transform="translate(167.5,906.4) scale(0.945,1)" text-anchor="end">−0.5</text><text transform="translate(167.5,1184.2) scale(0.945,1)" text-anchor="end">−1</text><text transform="translate(167.5,1461.9) scale(0.945,1)" text-anchor="end">−1.5</text><text transform="translate(235.9,1540.5) scale(0.945,1)" text-anchor="middle">−2</text><text transform="translate(441.0,1540.5) scale(0.945,1)" text-anchor="middle">−1</text><text transform="translate(652.5,1540.5) scale(0.945,1)" text-anchor="middle">0</text><text transform="translate(857.5,1540.5) scale(0.945,1)" text-anchor="middle">1</text><text transform="translate(1062.6,1540.5) scale(0.945,1)" text-anchor="middle">2</text><text transform="translate(1267.6,1540.5) scale(0.945,1)" text-anchor="middle">3</text><text transform="translate(1472.6,1540.5) scale(0.945,1)" text-anchor="middle">4</text><text transform="translate(1677.7,1540.5) scale(0.945,1)" text-anchor="middle">5</text></g>
<text x="945.0" y="1600.0" font-family="'Liberation Serif', 'Times New Roman', serif" font-weight="bold" font-size="75" text-anchor="middle">X/L</text>
<g transform="translate(115.7,770.0) rotate(-90)"><text x="0" y="0" font-family="'Liberation Serif', 'Times New Roman', serif" font-weight="bold" font-size="75" text-anchor="middle">P</text><text x="-1.2" y="-49.6" font-family="'Liberation Serif', 'Times New Roman', serif" font-weight="bold" font-size="48" text-anchor="middle" stroke="#000" stroke-width="1.4" transform="scale(1,1)">^</text></g>
<line x1="940" y1="146.8" x2="1191" y2="146.8" stroke="#cc0000" stroke-width="6"/><text x="1234" y="165.5" font-family="'Liberation Serif', 'Times New Roman', serif" font-weight="bold" font-size="58" textLength="310" lengthAdjust="spacingAndGlyphs">Non-calcified</text><line x1="940" y1="213.6" x2="1191" y2="213.6" stroke="#00cc00" stroke-width="6"/><text x="1234" y="232.2" font-family="'Liberation Serif', 'Times New Roman', serif" font-weight="bold" font-size="58" textLength="210" lengthAdjust="spacingAndGlyphs">Calcified</text><line x1="940" y1="280.3" x2="1191" y2="280.3" stroke="#ff8000" stroke-width="6"/><text x="1234" y="299.0" font-family="'Liberation Serif', 'Times New Roman', serif" font-weight="bold" font-size="58" textLength="446" lengthAdjust="spacingAndGlyphs">Non-calcified (CA)</text><line x1="940" y1="347.1" x2="1191" y2="347.1" stroke="#0080ff" stroke-width="6"/><text x="1234" y="365.8" font-family="'Liberation Serif', 'Times New Roman', serif" font-weight="bold" font-size="58" textLength="344" lengthAdjust="spacingAndGlyphs">Calcified (CA)</text>
</svg></body></html>
